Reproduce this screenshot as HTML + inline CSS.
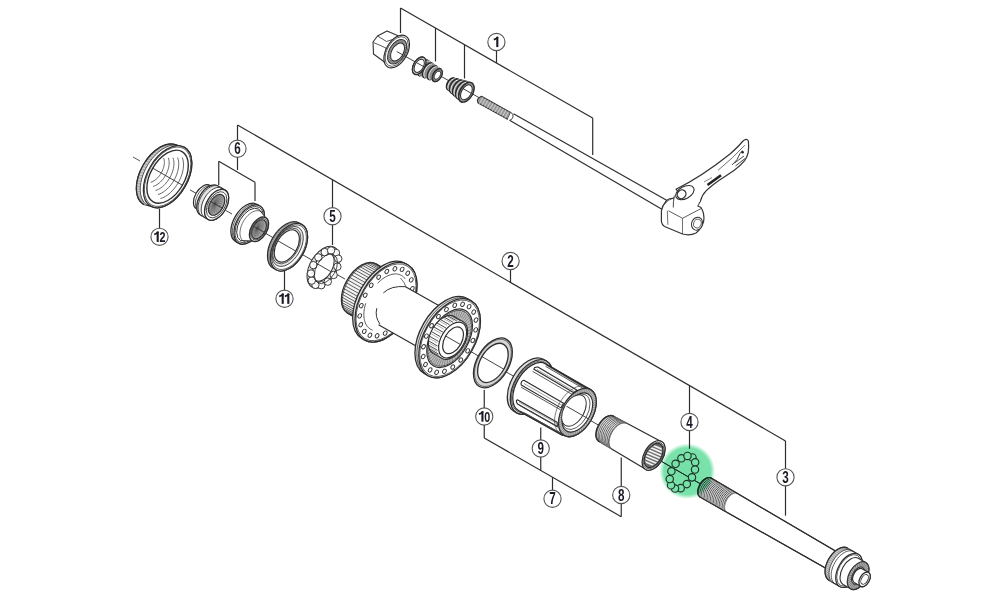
<!DOCTYPE html>
<html><head><meta charset="utf-8"><style>
html,body{margin:0;padding:0;background:#fff;width:1000px;height:600px;overflow:hidden}
svg{display:block}
</style></head><body>
<svg width="1000" height="600" viewBox="0 0 1000 600">
<rect width="1000" height="600" fill="#fff"/>
<line x1="400.5" y1="8" x2="400.5" y2="33" stroke="#2e2e2e" stroke-width="1.2" />
<line x1="400.5" y1="8" x2="593" y2="118.3" stroke="#2e2e2e" stroke-width="1.2" />
<line x1="435.5" y1="28.05" x2="435.5" y2="61.5" stroke="#2e2e2e" stroke-width="1.2" />
<line x1="464.5" y1="44.67" x2="464.5" y2="78.5" stroke="#2e2e2e" stroke-width="1.2" />
<line x1="496.5" y1="63.01" x2="496.5" y2="50.7" stroke="#2e2e2e" stroke-width="1.2" />
<line x1="592.7" y1="118.13" x2="592.7" y2="155" stroke="#2e2e2e" stroke-width="1.2" />
<line x1="237.5" y1="125" x2="785.5" y2="440.92" stroke="#2e2e2e" stroke-width="1.2" />
<line x1="237.5" y1="125" x2="237.5" y2="125" stroke="#2e2e2e" stroke-width="1.2" />
<line x1="237.5" y1="125" x2="237.5" y2="170" stroke="#2e2e2e" stroke-width="1.2" />
<line x1="218.75" y1="161.25" x2="218.75" y2="185" stroke="#2e2e2e" stroke-width="1.2" />
<line x1="218.75" y1="161.25" x2="255" y2="182.15" stroke="#2e2e2e" stroke-width="1.2" />
<line x1="255" y1="182.15" x2="255" y2="201" stroke="#2e2e2e" stroke-width="1.2" />
<line x1="332.5" y1="179.77" x2="332.5" y2="245" stroke="#2e2e2e" stroke-width="1.2" />
<line x1="510.5" y1="282.38" x2="510.5" y2="262" stroke="#2e2e2e" stroke-width="1.2" />
<line x1="689.5" y1="385.58" x2="689.5" y2="448.75" stroke="#2e2e2e" stroke-width="1.2" />
<line x1="785.5" y1="440.92" x2="785.5" y2="515.7" stroke="#2e2e2e" stroke-width="1.2" />
<line x1="484.25" y1="390" x2="484.25" y2="438" stroke="#2e2e2e" stroke-width="1.2" />
<line x1="484.25" y1="438" x2="621.25" y2="516.71" stroke="#2e2e2e" stroke-width="1.2" />
<line x1="621.25" y1="457.5" x2="621.25" y2="516.71" stroke="#2e2e2e" stroke-width="1.2" />
<line x1="540.75" y1="427.5" x2="540.75" y2="470.46" stroke="#2e2e2e" stroke-width="1.2" />
<line x1="552.5" y1="477.21" x2="552.5" y2="498.75" stroke="#2e2e2e" stroke-width="1.2" />
<line x1="159.5" y1="208.75" x2="159.5" y2="236" stroke="#2e2e2e" stroke-width="1.2" />
<line x1="284.5" y1="271" x2="284.5" y2="298" stroke="#2e2e2e" stroke-width="1.2" />
<line x1="133" y1="157" x2="140" y2="161.03" stroke="#2e2e2e" stroke-width="0.8" />
<line x1="226" y1="210.57" x2="232" y2="214.02" stroke="#2e2e2e" stroke-width="0.9" />
<line x1="262" y1="231.3" x2="345" y2="279.11" stroke="#2e2e2e" stroke-width="0.9" />
<line x1="455" y1="342.47" x2="515" y2="377.03" stroke="#2e2e2e" stroke-width="0.9" />
<line x1="580" y1="414.47" x2="600" y2="425.99" stroke="#2e2e2e" stroke-width="0.9" />
<line x1="650" y1="454.79" x2="705" y2="486.47" stroke="#2e2e2e" stroke-width="0.9" />
<line x1="190" y1="189.83" x2="198" y2="194.44" stroke="#2e2e2e" stroke-width="0.9" />
<path d="M177.52,145.62 A20 33.9 29.94 0 0 143.68,204.38 L150.68,206.08 A20 33.9 29.94 0 0 184.52,147.32 Z" fill="#fff" stroke="#2e2e2e" stroke-width="1.3" stroke-linejoin="round" />
<path d="M177.52,145.62 A20 33.9 29.94 0 0 143.68,204.38 L147.53,205.31 A20 33.9 29.94 0 1 181.37,146.56 Z" fill="#cfcfcf" stroke="none" stroke-width="0.0" stroke-linejoin="round"/>
<line x1="172.71" y1="144.07" x2="176.56" y2="145" stroke="#777" stroke-width="0.5" />
<line x1="170.74" y1="143.98" x2="174.59" y2="144.91" stroke="#777" stroke-width="0.5" />
<line x1="168.69" y1="144.15" x2="172.54" y2="145.08" stroke="#777" stroke-width="0.5" />
<line x1="166.57" y1="144.57" x2="170.42" y2="145.51" stroke="#777" stroke-width="0.5" />
<line x1="164.41" y1="145.25" x2="168.26" y2="146.19" stroke="#777" stroke-width="0.5" />
<line x1="162.21" y1="146.18" x2="166.06" y2="147.11" stroke="#777" stroke-width="0.5" />
<line x1="160" y1="147.35" x2="163.85" y2="148.28" stroke="#777" stroke-width="0.5" />
<line x1="157.79" y1="148.75" x2="161.64" y2="149.68" stroke="#777" stroke-width="0.5" />
<line x1="155.61" y1="150.37" x2="159.46" y2="151.3" stroke="#777" stroke-width="0.5" />
<line x1="153.46" y1="152.19" x2="157.31" y2="153.12" stroke="#777" stroke-width="0.5" />
<line x1="151.38" y1="154.2" x2="155.23" y2="155.14" stroke="#777" stroke-width="0.5" />
<line x1="149.38" y1="156.39" x2="153.23" y2="157.33" stroke="#777" stroke-width="0.5" />
<line x1="147.46" y1="158.73" x2="151.31" y2="159.67" stroke="#777" stroke-width="0.5" />
<line x1="145.66" y1="161.21" x2="149.51" y2="162.15" stroke="#777" stroke-width="0.5" />
<line x1="143.99" y1="163.81" x2="147.84" y2="164.74" stroke="#777" stroke-width="0.5" />
<line x1="142.45" y1="166.49" x2="146.3" y2="167.43" stroke="#777" stroke-width="0.5" />
<line x1="141.06" y1="169.25" x2="144.91" y2="170.19" stroke="#777" stroke-width="0.5" />
<line x1="139.83" y1="172.06" x2="143.68" y2="172.99" stroke="#777" stroke-width="0.5" />
<line x1="138.78" y1="174.89" x2="142.63" y2="175.82" stroke="#777" stroke-width="0.5" />
<line x1="137.91" y1="177.72" x2="141.76" y2="178.66" stroke="#777" stroke-width="0.5" />
<line x1="137.23" y1="180.53" x2="141.08" y2="181.46" stroke="#777" stroke-width="0.5" />
<line x1="136.75" y1="183.29" x2="140.6" y2="184.23" stroke="#777" stroke-width="0.5" />
<line x1="136.46" y1="185.99" x2="140.31" y2="186.92" stroke="#777" stroke-width="0.5" />
<line x1="136.38" y1="188.59" x2="140.23" y2="189.52" stroke="#777" stroke-width="0.5" />
<line x1="136.5" y1="191.08" x2="140.35" y2="192.01" stroke="#777" stroke-width="0.5" />
<line x1="136.82" y1="193.43" x2="140.67" y2="194.37" stroke="#777" stroke-width="0.5" />
<line x1="137.33" y1="195.63" x2="141.18" y2="196.57" stroke="#777" stroke-width="0.5" />
<line x1="138.04" y1="197.66" x2="141.89" y2="198.59" stroke="#777" stroke-width="0.5" />
<line x1="138.94" y1="199.5" x2="142.79" y2="200.43" stroke="#777" stroke-width="0.5" />
<line x1="140.02" y1="201.13" x2="143.87" y2="202.07" stroke="#777" stroke-width="0.5" />
<polyline points="182.22,147.1 179.84,145.82 177.18,145.09 174.29,144.92 171.22,145.32 168.02,146.27 164.76,147.77 161.5,149.78 158.29,152.26 155.19,155.18 152.26,158.47 149.55,162.09 147.12,165.95 145,170 143.23,174.15 141.85,178.34 140.88,182.48 140.34,186.51 140.25,190.34 140.59,193.91 141.36,197.15 142.56,200 144.15,202.42 146.12,204.36 148.42,205.77" fill="none" stroke="#333" stroke-width="0.8" stroke-linejoin="round" stroke-linecap="round" />
<polyline points="177.52,145.62 175.11,144.57 172.46,144.04 169.6,144.04 166.59,144.57 163.47,145.62 160.31,147.17 157.15,149.2 154.05,151.67 151.06,154.54 148.24,157.75 145.63,161.27 143.27,165.02 141.21,168.94 139.48,172.96 138.11,177.02 137.13,181.04 136.55,184.96 136.38,188.71 136.63,192.23 137.28,195.45 138.34,198.32 139.77,200.79 141.56,202.82 143.68,204.38" fill="none" stroke="#2e2e2e" stroke-width="1.3" stroke-linejoin="round" stroke-linecap="round" />
<ellipse cx="167.6" cy="176.7" rx="20" ry="33.9" transform="rotate(29.94 167.6 176.7)" fill="#fff" stroke="#2e2e2e" stroke-width="1.3" />
<ellipse cx="167.6" cy="176.7" rx="19.18" ry="32.5" transform="rotate(29.94 167.6 176.7)" fill="none" stroke="#2e2e2e" stroke-width="0.7" />
<ellipse cx="167.6" cy="176.7" rx="17.11" ry="29" transform="rotate(29.94 167.6 176.7)" fill="#fff" stroke="#2e2e2e" stroke-width="1.4" />
<clipPath id="c1"><ellipse cx="167.6" cy="176.7" rx="17.11" ry="29" transform="rotate(29.94 167.6 176.7)"/></clipPath>
<g clip-path="url(#c1)">
<polyline points="182.41,157.9 182.91,159.46 183.26,161.15 183.47,162.94 183.53,164.83 183.45,166.79 183.21,168.83 182.84,170.91 182.32,173.02 181.66,175.15 180.87,177.28 179.96,179.39 178.92,181.47 177.78,183.5 176.53,185.46 175.19,187.34 173.76,189.12 172.27,190.79 170.72,192.34 169.12,193.76 167.48,195.02 165.83,196.13 164.16,197.08 162.5,197.85 160.86,198.44" fill="none" stroke="#555" stroke-width="0.9" stroke-linejoin="round" stroke-linecap="round" />
<polyline points="177.74,158.01 178.18,159.42 178.5,160.93 178.69,162.53 178.74,164.23 178.67,165.99 178.46,167.82 178.12,169.69 177.65,171.58 177.07,173.49 176.36,175.4 175.54,177.3 174.61,179.16 173.58,180.98 172.46,182.74 171.25,184.43 169.98,186.03 168.64,187.53 167.24,188.92 165.81,190.19 164.34,191.33 162.86,192.32 161.36,193.17 159.87,193.86 158.4,194.4" fill="none" stroke="#555" stroke-width="0.9" stroke-linejoin="round" stroke-linecap="round" />
<polyline points="173.06,158.13 173.46,159.37 173.74,160.71 173.9,162.13 173.95,163.63 173.89,165.2 173.7,166.81 173.4,168.46 172.99,170.14 172.47,171.84 171.84,173.53 171.11,175.21 170.29,176.86 169.38,178.47 168.39,180.03 167.32,181.52 166.19,182.94 165,184.27 163.77,185.5 162.5,186.62 161.2,187.63 159.88,188.51 158.56,189.26 157.24,189.88 155.94,190.35" fill="none" stroke="#555" stroke-width="0.9" stroke-linejoin="round" stroke-linecap="round" />
<polyline points="168.39,158.24 168.73,159.32 168.98,160.49 169.12,161.73 169.17,163.03 169.11,164.4 168.95,165.8 168.69,167.24 168.33,168.71 167.87,170.18 167.33,171.65 166.69,173.11 165.98,174.55 165.18,175.95 164.32,177.31 163.39,178.61 162.41,179.85 161.37,181 160.3,182.08 159.19,183.05 158.06,183.93 156.91,184.7 155.76,185.35 154.61,185.89 153.48,186.3" fill="none" stroke="#555" stroke-width="0.9" stroke-linejoin="round" stroke-linecap="round" />
<polyline points="163.72,158.36 164.01,159.28 164.22,160.27 164.34,161.32 164.38,162.44 164.33,163.6 164.19,164.79 163.97,166.02 163.66,167.27 163.27,168.52 162.81,169.78 162.27,171.02 161.66,172.25 160.98,173.44 160.25,174.6 159.46,175.7 158.62,176.76 157.74,177.74 156.82,178.65 155.88,179.49 154.92,180.23 153.94,180.89 152.96,181.45 151.98,181.9 151.02,182.25" fill="none" stroke="#555" stroke-width="0.9" stroke-linejoin="round" stroke-linecap="round" />
<line x1="122.6" y1="150.78" x2="227.6" y2="211.26" stroke="#2e2e2e" stroke-width="0.9" />
</g>
<path d="M209.96,185.28 A8.02 13.6 29.94 0 0 196.38,208.85 L202.01,212.09 A8.02 13.6 29.94 0 0 215.59,188.52 Z" fill="#fff" stroke="#2e2e2e" stroke-width="1.2" stroke-linejoin="round" />
<polyline points="212.2,186.59 211.25,186.08 210.18,185.79 209.02,185.72 207.79,185.88 206.51,186.26 205.2,186.86 203.89,187.67 202.6,188.67 201.36,189.84 200.19,191.16 199.1,192.61 198.12,194.16 197.27,195.78 196.56,197.45 196.01,199.13 195.62,200.79 195.4,202.4 195.36,203.94 195.5,205.37 195.81,206.67 196.29,207.82 196.93,208.79 197.72,209.56 198.64,210.13" fill="none" stroke="#2e2e2e" stroke-width="0.8" stroke-linejoin="round" stroke-linecap="round" />
<path d="M217.24,185.66 A9.97 16.9 29.94 0 0 200.37,214.95 L208.16,219.44 A9.97 16.9 29.94 0 0 225.04,190.16 Z" fill="#fff" stroke="#2e2e2e" stroke-width="1.3" stroke-linejoin="round" />
<path d="M218.54,186.41 A9.97 16.9 29.94 0 0 201.67,215.7 L204.87,217.55 A9.97 16.9 29.94 0 1 221.74,188.26 Z" fill="#e4e4e4" stroke="none" stroke-width="0.0" stroke-linejoin="round"/>
<polyline points="218.96,186.68 217.77,186.04 216.45,185.68 215,185.6 213.47,185.79 211.88,186.27 210.26,187.02 208.63,188.02 207.03,189.26 205.49,190.71 204.03,192.35 202.68,194.15 201.46,196.08 200.4,198.1 199.52,200.17 198.84,202.26 198.35,204.32 198.08,206.33 198.03,208.24 198.2,210.02 198.59,211.63 199.19,213.06 199.98,214.26 200.96,215.23 202.11,215.93" fill="none" stroke="#2e2e2e" stroke-width="0.9" stroke-linejoin="round" stroke-linecap="round" />
<polyline points="222.16,188.53 220.98,187.89 219.65,187.53 218.21,187.44 216.68,187.64 215.09,188.12 213.46,188.86 211.84,189.86 210.24,191.1 208.69,192.56 207.23,194.2 205.88,196 204.67,197.93 203.61,199.94 202.73,202.02 202.04,204.1 201.56,206.17 201.29,208.17 201.24,210.08 201.41,211.86 201.8,213.48 202.39,214.9 203.19,216.11 204.17,217.07 205.31,217.78" fill="none" stroke="#2e2e2e" stroke-width="0.9" stroke-linejoin="round" stroke-linecap="round" />
<ellipse cx="216.6" cy="204.8" rx="9.97" ry="16.9" transform="rotate(29.94 216.6 204.8)" fill="#fff" stroke="#2e2e2e" stroke-width="1.3" />
<ellipse cx="216.6" cy="204.8" rx="8.44" ry="14.3" transform="rotate(29.94 216.6 204.8)" fill="#fff" stroke="#2e2e2e" stroke-width="0.8" />
<ellipse cx="216.6" cy="204.8" rx="6.73" ry="11.4" transform="rotate(29.94 216.6 204.8)" fill="#a2a2a2" stroke="#2e2e2e" stroke-width="1.2" />
<line x1="214.87" y1="203.8" x2="220.36" y2="194.27" stroke="#555" stroke-width="0.5" />
<line x1="214.87" y1="203.8" x2="221.54" y2="195.32" stroke="#555" stroke-width="0.5" />
<line x1="214.87" y1="203.8" x2="222.34" y2="196.87" stroke="#555" stroke-width="0.5" />
<line x1="214.87" y1="203.8" x2="222.71" y2="198.82" stroke="#555" stroke-width="0.5" />
<line x1="214.87" y1="203.8" x2="222.61" y2="201.05" stroke="#555" stroke-width="0.5" />
<line x1="214.87" y1="203.8" x2="222.07" y2="203.45" stroke="#555" stroke-width="0.5" />
<line x1="214.87" y1="203.8" x2="221.11" y2="205.87" stroke="#555" stroke-width="0.5" />
<line x1="214.87" y1="203.8" x2="219.79" y2="208.17" stroke="#555" stroke-width="0.5" />
<line x1="214.87" y1="203.8" x2="218.18" y2="210.21" stroke="#555" stroke-width="0.5" />
<line x1="214.87" y1="203.8" x2="216.38" y2="211.88" stroke="#555" stroke-width="0.5" />
<line x1="214.87" y1="203.8" x2="214.49" y2="213.08" stroke="#555" stroke-width="0.5" />
<line x1="214.87" y1="203.8" x2="212.62" y2="213.75" stroke="#555" stroke-width="0.5" />
<line x1="214.87" y1="203.8" x2="210.88" y2="213.83" stroke="#555" stroke-width="0.5" />
<line x1="214.87" y1="203.8" x2="209.38" y2="213.33" stroke="#555" stroke-width="0.5" />
<line x1="214.87" y1="203.8" x2="208.19" y2="212.28" stroke="#555" stroke-width="0.5" />
<line x1="214.87" y1="203.8" x2="207.39" y2="210.74" stroke="#555" stroke-width="0.5" />
<line x1="214.87" y1="203.8" x2="207.03" y2="208.79" stroke="#555" stroke-width="0.5" />
<line x1="214.87" y1="203.8" x2="207.12" y2="206.55" stroke="#555" stroke-width="0.5" />
<line x1="214.87" y1="203.8" x2="207.66" y2="204.15" stroke="#555" stroke-width="0.5" />
<line x1="214.87" y1="203.8" x2="208.62" y2="201.74" stroke="#555" stroke-width="0.5" />
<line x1="214.87" y1="203.8" x2="209.95" y2="199.44" stroke="#555" stroke-width="0.5" />
<line x1="214.87" y1="203.8" x2="211.56" y2="197.39" stroke="#555" stroke-width="0.5" />
<line x1="214.87" y1="203.8" x2="213.36" y2="195.72" stroke="#555" stroke-width="0.5" />
<line x1="214.87" y1="203.8" x2="215.25" y2="194.52" stroke="#555" stroke-width="0.5" />
<line x1="214.87" y1="203.8" x2="217.11" y2="193.86" stroke="#555" stroke-width="0.5" />
<line x1="214.87" y1="203.8" x2="218.85" y2="193.77" stroke="#555" stroke-width="0.5" />
<clipPath id="c2"><ellipse cx="216.6" cy="204.8" rx="6.73" ry="11.4" transform="rotate(29.94 216.6 204.8)"/></clipPath>
<g clip-path="url(#c2)">
<line x1="156.6" y1="170.24" x2="276.6" y2="239.36" stroke="#2e2e2e" stroke-width="0.9" />
</g>
<path d="M256.85,204.31 A12.63 21.4 29.94 0 0 235.49,241.4 L238.52,243.14 A12.63 21.4 29.94 0 0 259.88,206.06 Z" fill="#fff" stroke="#2e2e2e" stroke-width="1.3" stroke-linejoin="round" />
<polyline points="258.85,205.5 257.35,204.69 255.67,204.23 253.85,204.12 251.91,204.37 249.9,204.98 247.84,205.92 245.78,207.19 243.75,208.76 241.8,210.6 239.95,212.68 238.24,214.96 236.7,217.4 235.36,219.95 234.25,222.58 233.37,225.22 232.76,227.84 232.42,230.38 232.36,232.79 232.58,235.05 233.07,237.09 233.82,238.9 234.83,240.42 236.07,241.64 237.52,242.54" fill="none" stroke="#2e2e2e" stroke-width="0.8" stroke-linejoin="round" stroke-linecap="round" />
<ellipse cx="249.2" cy="224.6" rx="12.63" ry="21.4" transform="rotate(29.94 249.2 224.6)" fill="#fff" stroke="#2e2e2e" stroke-width="1.3" />
<ellipse cx="249.2" cy="224.6" rx="11.74" ry="19.9" transform="rotate(29.94 249.2 224.6)" fill="#fff" stroke="#2e2e2e" stroke-width="0.8" />
<path d="M258.72,209.08 A10.74 18.2 29.94 0 0 240.55,240.62 L252.31,240.91 A7.91 13.4 29.94 0 0 265.69,217.69 Z" fill="#fff" stroke="#2e2e2e" stroke-width="1.0" stroke-linejoin="round" />
<polyline points="262.04,212.37 260.88,211.48 259.54,210.89 258.05,210.62 256.44,210.68 254.75,211.05 253.01,211.74 251.25,212.73 249.51,214 247.82,215.53 246.23,217.27 244.76,219.2 243.44,221.28 242.3,223.46 241.37,225.7 240.66,227.96 240.19,230.18 239.96,232.32 239.99,234.34 240.27,236.2 240.79,237.85 241.55,239.27 242.53,240.42 243.71,241.28 245.06,241.84" fill="none" stroke="#2e2e2e" stroke-width="0.7" stroke-linejoin="round" stroke-linecap="round" />
<ellipse cx="259" cy="229.3" rx="7.91" ry="13.4" transform="rotate(29.94 259 229.3)" fill="#fff" stroke="#2e2e2e" stroke-width="1.4" />
<ellipse cx="259" cy="229.3" rx="6.96" ry="11.8" transform="rotate(29.94 259 229.3)" fill="#fff" stroke="#2e2e2e" stroke-width="0.8" />
<ellipse cx="259" cy="229.3" rx="6.14" ry="10.4" transform="rotate(29.94 259 229.3)" fill="#a2a2a2" stroke="#2e2e2e" stroke-width="1.1" />
<line x1="257.27" y1="228.3" x2="262.26" y2="219.64" stroke="#555" stroke-width="0.5" />
<line x1="257.27" y1="228.3" x2="263.34" y2="220.59" stroke="#555" stroke-width="0.5" />
<line x1="257.27" y1="228.3" x2="264.06" y2="222" stroke="#555" stroke-width="0.5" />
<line x1="257.27" y1="228.3" x2="264.39" y2="223.77" stroke="#555" stroke-width="0.5" />
<line x1="257.27" y1="228.3" x2="264.31" y2="225.8" stroke="#555" stroke-width="0.5" />
<line x1="257.27" y1="228.3" x2="263.82" y2="227.98" stroke="#555" stroke-width="0.5" />
<line x1="257.27" y1="228.3" x2="262.94" y2="230.18" stroke="#555" stroke-width="0.5" />
<line x1="257.27" y1="228.3" x2="261.74" y2="232.27" stroke="#555" stroke-width="0.5" />
<line x1="257.27" y1="228.3" x2="260.28" y2="234.13" stroke="#555" stroke-width="0.5" />
<line x1="257.27" y1="228.3" x2="258.64" y2="235.65" stroke="#555" stroke-width="0.5" />
<line x1="257.27" y1="228.3" x2="256.92" y2="236.74" stroke="#555" stroke-width="0.5" />
<line x1="257.27" y1="228.3" x2="255.22" y2="237.34" stroke="#555" stroke-width="0.5" />
<line x1="257.27" y1="228.3" x2="253.64" y2="237.42" stroke="#555" stroke-width="0.5" />
<line x1="257.27" y1="228.3" x2="252.28" y2="236.97" stroke="#555" stroke-width="0.5" />
<line x1="257.27" y1="228.3" x2="251.2" y2="236.01" stroke="#555" stroke-width="0.5" />
<line x1="257.27" y1="228.3" x2="250.47" y2="234.61" stroke="#555" stroke-width="0.5" />
<line x1="257.27" y1="228.3" x2="250.14" y2="232.84" stroke="#555" stroke-width="0.5" />
<line x1="257.27" y1="228.3" x2="250.22" y2="230.8" stroke="#555" stroke-width="0.5" />
<line x1="257.27" y1="228.3" x2="250.72" y2="228.62" stroke="#555" stroke-width="0.5" />
<line x1="257.27" y1="228.3" x2="251.59" y2="226.42" stroke="#555" stroke-width="0.5" />
<line x1="257.27" y1="228.3" x2="252.79" y2="224.33" stroke="#555" stroke-width="0.5" />
<line x1="257.27" y1="228.3" x2="254.26" y2="222.48" stroke="#555" stroke-width="0.5" />
<line x1="257.27" y1="228.3" x2="255.89" y2="220.96" stroke="#555" stroke-width="0.5" />
<line x1="257.27" y1="228.3" x2="257.61" y2="219.86" stroke="#555" stroke-width="0.5" />
<line x1="257.27" y1="228.3" x2="259.31" y2="219.26" stroke="#555" stroke-width="0.5" />
<line x1="257.27" y1="228.3" x2="260.89" y2="219.18" stroke="#555" stroke-width="0.5" />
<clipPath id="c3"><ellipse cx="259" cy="229.3" rx="6.14" ry="10.4" transform="rotate(29.94 259 229.3)"/></clipPath>
<g clip-path="url(#c3)">
<line x1="199" y1="194.74" x2="319" y2="263.86" stroke="#2e2e2e" stroke-width="0.9" />
</g>
<path d="M298.94,222.92 A15.34 26 29.94 0 0 272.99,267.98 L276.02,269.73 A15.34 26 29.94 0 0 301.98,224.67 Z" fill="#b0b0b0" stroke="#2e2e2e" stroke-width="1.3" stroke-linejoin="round" />
<line x1="296.81" y1="222.03" x2="299.85" y2="223.78" stroke="#555" stroke-width="0.5" />
<line x1="295.47" y1="221.76" x2="298.5" y2="223.5" stroke="#555" stroke-width="0.5" />
<line x1="294.06" y1="221.66" x2="297.09" y2="223.41" stroke="#555" stroke-width="0.5" />
<line x1="292.59" y1="221.74" x2="295.62" y2="223.48" stroke="#555" stroke-width="0.5" />
<line x1="291.06" y1="221.99" x2="294.1" y2="223.74" stroke="#555" stroke-width="0.5" />
<line x1="289.5" y1="222.42" x2="292.54" y2="224.17" stroke="#555" stroke-width="0.5" />
<line x1="287.92" y1="223.02" x2="290.95" y2="224.77" stroke="#555" stroke-width="0.5" />
<line x1="286.32" y1="223.79" x2="289.35" y2="225.54" stroke="#555" stroke-width="0.5" />
<line x1="284.71" y1="224.72" x2="287.75" y2="226.47" stroke="#555" stroke-width="0.5" />
<line x1="283.12" y1="225.81" x2="286.15" y2="227.56" stroke="#555" stroke-width="0.5" />
<line x1="281.55" y1="227.04" x2="284.58" y2="228.79" stroke="#555" stroke-width="0.5" />
<line x1="280.01" y1="228.41" x2="283.04" y2="230.16" stroke="#555" stroke-width="0.5" />
<line x1="278.51" y1="229.91" x2="281.54" y2="231.65" stroke="#555" stroke-width="0.5" />
<line x1="277.07" y1="231.52" x2="280.1" y2="233.26" stroke="#555" stroke-width="0.5" />
<line x1="275.7" y1="233.23" x2="278.73" y2="234.98" stroke="#555" stroke-width="0.5" />
<line x1="274.4" y1="235.04" x2="277.43" y2="236.79" stroke="#555" stroke-width="0.5" />
<line x1="273.19" y1="236.92" x2="276.22" y2="238.67" stroke="#555" stroke-width="0.5" />
<line x1="272.07" y1="238.87" x2="275.11" y2="240.62" stroke="#555" stroke-width="0.5" />
<line x1="271.06" y1="240.87" x2="274.1" y2="242.62" stroke="#555" stroke-width="0.5" />
<line x1="270.16" y1="242.9" x2="273.19" y2="244.65" stroke="#555" stroke-width="0.5" />
<line x1="269.38" y1="244.95" x2="272.41" y2="246.7" stroke="#555" stroke-width="0.5" />
<line x1="268.72" y1="247" x2="271.75" y2="248.75" stroke="#555" stroke-width="0.5" />
<line x1="268.19" y1="249.05" x2="271.22" y2="250.79" stroke="#555" stroke-width="0.5" />
<line x1="267.79" y1="251.06" x2="270.82" y2="252.81" stroke="#555" stroke-width="0.5" />
<line x1="267.53" y1="253.04" x2="270.56" y2="254.78" stroke="#555" stroke-width="0.5" />
<line x1="267.4" y1="254.95" x2="270.43" y2="256.7" stroke="#555" stroke-width="0.5" />
<line x1="267.41" y1="256.8" x2="270.45" y2="258.55" stroke="#555" stroke-width="0.5" />
<line x1="267.57" y1="258.56" x2="270.6" y2="260.31" stroke="#555" stroke-width="0.5" />
<line x1="267.85" y1="260.23" x2="270.89" y2="261.97" stroke="#555" stroke-width="0.5" />
<line x1="268.28" y1="261.78" x2="271.31" y2="263.53" stroke="#555" stroke-width="0.5" />
<line x1="268.83" y1="263.21" x2="271.87" y2="264.96" stroke="#555" stroke-width="0.5" />
<line x1="269.52" y1="264.51" x2="272.55" y2="266.26" stroke="#555" stroke-width="0.5" />
<line x1="270.32" y1="265.67" x2="273.35" y2="267.42" stroke="#555" stroke-width="0.5" />
<line x1="271.24" y1="266.68" x2="274.28" y2="268.42" stroke="#555" stroke-width="0.5" />
<ellipse cx="289" cy="247.2" rx="15.34" ry="26" transform="rotate(29.94 289 247.2)" fill="#fff" stroke="#2e2e2e" stroke-width="1.3" />
<ellipse cx="289" cy="247.2" rx="14.4" ry="24.4" transform="rotate(29.94 289 247.2)" fill="none" stroke="#2e2e2e" stroke-width="0.7" />
<ellipse cx="287.7" cy="246.45" rx="12.86" ry="21.8" transform="rotate(29.94 287.7 246.45)" fill="#e9e9e9" stroke="#2e2e2e" stroke-width="0.8" />
<ellipse cx="286.83" cy="245.95" rx="11.56" ry="19.6" transform="rotate(29.94 286.83 245.95)" fill="none" stroke="#2e2e2e" stroke-width="0.7" />
<ellipse cx="286.83" cy="245.95" rx="10.38" ry="17.6" transform="rotate(29.94 286.83 245.95)" fill="#fff" stroke="#2e2e2e" stroke-width="1.1" />
<clipPath id="c4"><ellipse cx="286.83" cy="245.95" rx="10.38" ry="17.6" transform="rotate(29.94 286.83 245.95)"/></clipPath>
<g clip-path="url(#c4)">
<line x1="226.83" y1="211.39" x2="346.83" y2="280.51" stroke="#2e2e2e" stroke-width="0.9" />
</g>
<ellipse cx="323.3" cy="267.25" rx="13.45" ry="22.8" transform="rotate(29.94 323.3 267.25)" fill="#e6e6e6" stroke="#2e2e2e" stroke-width="1.0" />
<ellipse cx="323.3" cy="267.25" rx="8.97" ry="15.2" transform="rotate(29.94 323.3 267.25)" fill="#fff" stroke="#2e2e2e" stroke-width="1.0" />
<clipPath id="c5"><ellipse cx="323.3" cy="267.25" rx="8.97" ry="15.2" transform="rotate(29.94 323.3 267.25)"/></clipPath>
<g clip-path="url(#c5)">
<line x1="263.3" y1="232.69" x2="383.3" y2="301.81" stroke="#2e2e2e" stroke-width="0.9" />
</g>
<circle cx="335.94" cy="252.82" r="3.7" fill="#fff" stroke="#333" stroke-width="0.95"/>
<circle cx="337.06" cy="252.52" r="1.2" fill="#f0f0f0" stroke="none"/>
<circle cx="338.23" cy="258.67" r="3.7" fill="#fff" stroke="#333" stroke-width="0.95"/>
<circle cx="339.35" cy="258.37" r="1.2" fill="#f0f0f0" stroke="none"/>
<circle cx="337.39" cy="266.66" r="3.7" fill="#fff" stroke="#333" stroke-width="0.95"/>
<circle cx="338.51" cy="266.36" r="1.2" fill="#f0f0f0" stroke="none"/>
<circle cx="333.63" cy="274.95" r="3.7" fill="#fff" stroke="#333" stroke-width="0.95"/>
<circle cx="334.75" cy="274.65" r="1.2" fill="#f0f0f0" stroke="none"/>
<circle cx="327.79" cy="281.66" r="3.7" fill="#fff" stroke="#333" stroke-width="0.95"/>
<circle cx="328.91" cy="281.36" r="1.2" fill="#f0f0f0" stroke="none"/>
<circle cx="321.23" cy="285.23" r="3.7" fill="#fff" stroke="#333" stroke-width="0.95"/>
<circle cx="322.35" cy="284.93" r="1.2" fill="#f0f0f0" stroke="none"/>
<circle cx="315.43" cy="284.86" r="3.7" fill="#fff" stroke="#333" stroke-width="0.95"/>
<circle cx="316.55" cy="284.56" r="1.2" fill="#f0f0f0" stroke="none"/>
<circle cx="311.74" cy="280.62" r="3.7" fill="#fff" stroke="#333" stroke-width="0.95"/>
<circle cx="312.86" cy="280.32" r="1.2" fill="#f0f0f0" stroke="none"/>
<circle cx="310.99" cy="273.5" r="3.7" fill="#fff" stroke="#333" stroke-width="0.95"/>
<circle cx="312.11" cy="273.2" r="1.2" fill="#f0f0f0" stroke="none"/>
<circle cx="313.36" cy="265.11" r="3.7" fill="#fff" stroke="#333" stroke-width="0.95"/>
<circle cx="314.48" cy="264.81" r="1.2" fill="#f0f0f0" stroke="none"/>
<circle cx="318.31" cy="257.39" r="3.7" fill="#fff" stroke="#333" stroke-width="0.95"/>
<circle cx="319.43" cy="257.09" r="1.2" fill="#f0f0f0" stroke="none"/>
<circle cx="324.69" cy="252.09" r="3.7" fill="#fff" stroke="#333" stroke-width="0.95"/>
<circle cx="325.81" cy="251.79" r="1.2" fill="#f0f0f0" stroke="none"/>
<circle cx="331.06" cy="250.45" r="3.7" fill="#fff" stroke="#333" stroke-width="0.95"/>
<circle cx="332.18" cy="250.14" r="1.2" fill="#f0f0f0" stroke="none"/>
<ellipse cx="325.9" cy="268.75" rx="9.56" ry="16.2" transform="rotate(29.94 325.9 268.75)" fill="none" stroke="#2e2e2e" stroke-width="0.8" />
<path d="M375.92,263.8 A16.81 28.5 29.94 0 0 347.48,313.2 L367.44,324.5 A16.81 28.5 29.94 0 0 395.89,275.11 Z" fill="#f2f2f2" stroke="#2e2e2e" stroke-width="1.2" stroke-linejoin="round" />
<line x1="380.06" y1="268.18" x2="400.03" y2="279.48" stroke="#3a3a3a" stroke-width="0.8" />
<line x1="378.96" y1="266.48" x2="398.93" y2="277.78" stroke="#3a3a3a" stroke-width="0.8" />
<line x1="377.64" y1="265.05" x2="397.61" y2="276.36" stroke="#3a3a3a" stroke-width="0.8" />
<line x1="376.12" y1="263.92" x2="396.09" y2="275.22" stroke="#3a3a3a" stroke-width="0.8" />
<line x1="374.42" y1="263.1" x2="394.39" y2="274.4" stroke="#3a3a3a" stroke-width="0.8" />
<line x1="372.56" y1="262.6" x2="392.53" y2="273.9" stroke="#3a3a3a" stroke-width="0.8" />
<line x1="370.57" y1="262.42" x2="390.54" y2="273.72" stroke="#3a3a3a" stroke-width="0.8" />
<line x1="368.46" y1="262.57" x2="388.43" y2="273.87" stroke="#3a3a3a" stroke-width="0.8" />
<line x1="366.27" y1="263.04" x2="386.24" y2="274.35" stroke="#3a3a3a" stroke-width="0.8" />
<line x1="364.02" y1="263.84" x2="383.99" y2="275.14" stroke="#3a3a3a" stroke-width="0.8" />
<line x1="361.74" y1="264.94" x2="381.71" y2="276.25" stroke="#3a3a3a" stroke-width="0.8" />
<line x1="359.47" y1="266.34" x2="379.43" y2="277.65" stroke="#3a3a3a" stroke-width="0.8" />
<line x1="357.22" y1="268.02" x2="377.18" y2="279.33" stroke="#3a3a3a" stroke-width="0.8" />
<line x1="355.02" y1="269.96" x2="374.99" y2="281.26" stroke="#3a3a3a" stroke-width="0.8" />
<line x1="352.91" y1="272.13" x2="372.88" y2="283.43" stroke="#3a3a3a" stroke-width="0.8" />
<line x1="350.91" y1="274.5" x2="370.88" y2="285.8" stroke="#3a3a3a" stroke-width="0.8" />
<line x1="349.05" y1="277.05" x2="369.01" y2="288.35" stroke="#3a3a3a" stroke-width="0.8" />
<line x1="347.34" y1="279.74" x2="367.31" y2="291.05" stroke="#3a3a3a" stroke-width="0.8" />
<line x1="345.82" y1="282.55" x2="365.78" y2="293.85" stroke="#3a3a3a" stroke-width="0.8" />
<line x1="344.49" y1="285.43" x2="364.46" y2="296.73" stroke="#3a3a3a" stroke-width="0.8" />
<line x1="343.38" y1="288.34" x2="363.35" y2="299.65" stroke="#3a3a3a" stroke-width="0.8" />
<line x1="342.5" y1="291.26" x2="362.47" y2="302.57" stroke="#3a3a3a" stroke-width="0.8" />
<line x1="341.86" y1="294.15" x2="361.83" y2="305.45" stroke="#3a3a3a" stroke-width="0.8" />
<line x1="341.47" y1="296.96" x2="361.44" y2="308.27" stroke="#3a3a3a" stroke-width="0.8" />
<line x1="341.34" y1="299.67" x2="361.3" y2="310.97" stroke="#3a3a3a" stroke-width="0.8" />
<line x1="341.46" y1="302.24" x2="361.42" y2="313.54" stroke="#3a3a3a" stroke-width="0.8" />
<line x1="341.83" y1="304.63" x2="361.8" y2="315.94" stroke="#3a3a3a" stroke-width="0.8" />
<line x1="342.46" y1="306.82" x2="362.42" y2="318.13" stroke="#3a3a3a" stroke-width="0.8" />
<line x1="343.32" y1="308.79" x2="363.29" y2="320.09" stroke="#3a3a3a" stroke-width="0.8" />
<line x1="344.42" y1="310.49" x2="364.39" y2="321.8" stroke="#3a3a3a" stroke-width="0.8" />
<line x1="345.73" y1="311.92" x2="365.7" y2="323.23" stroke="#3a3a3a" stroke-width="0.8" />
<line x1="347.25" y1="313.06" x2="367.21" y2="324.36" stroke="#3a3a3a" stroke-width="0.8" />
<line x1="348.94" y1="313.89" x2="368.91" y2="325.19" stroke="#3a3a3a" stroke-width="0.8" />
<line x1="350.8" y1="314.4" x2="370.76" y2="325.7" stroke="#3a3a3a" stroke-width="0.8" />
<polyline points="381.1,268.78 379.53,266.51 377.56,264.77 375.24,263.62 372.62,263.06 369.77,263.13 366.75,263.81 363.64,265.09 360.51,266.94 357.42,269.32 354.47,272.16 351.71,275.41 349.21,278.98 347.04,282.79 345.23,286.75 343.84,290.77 342.9,294.75 342.43,298.59 342.44,302.21 342.94,305.52 343.9,308.43 345.31,310.89 347.13,312.83 349.33,314.21 351.84,315" fill="none" stroke="#333" stroke-width="0.8" stroke-linejoin="round" stroke-linecap="round" />
<ellipse cx="381.67" cy="299.8" rx="16.52" ry="28" transform="rotate(29.94 381.67 299.8)" fill="#e0e0e0" stroke="#2e2e2e" stroke-width="0.8" />
<path d="M405.06,263.2 A25.61 43.4 29.94 0 0 361.74,338.41 L364.34,339.91 A25.61 43.4 29.94 0 0 407.66,264.69 Z" fill="#e2e2e2" stroke="#2e2e2e" stroke-width="1.3" stroke-linejoin="round" />
<ellipse cx="386" cy="302.3" rx="25.61" ry="43.4" transform="rotate(29.94 386 302.3)" fill="#fff" stroke="#2e2e2e" stroke-width="1.3" />
<ellipse cx="386" cy="302.3" rx="24.78" ry="42" transform="rotate(29.94 386 302.3)" fill="none" stroke="#2e2e2e" stroke-width="0.7" />
<ellipse cx="407.74" cy="273.2" rx="1.7" ry="2.3" transform="rotate(29.94 407.74 273.2)" fill="#fff" stroke="#333" stroke-width="0.9"/>
<ellipse cx="411.25" cy="279.86" rx="1.7" ry="2.3" transform="rotate(29.94 411.25 279.86)" fill="#fff" stroke="#333" stroke-width="0.9"/>
<ellipse cx="412.28" cy="288.72" rx="1.7" ry="2.3" transform="rotate(29.94 412.28 288.72)" fill="#fff" stroke="#333" stroke-width="0.9"/>
<ellipse cx="410.74" cy="298.91" rx="1.7" ry="2.3" transform="rotate(29.94 410.74 298.91)" fill="#fff" stroke="#333" stroke-width="0.9"/>
<ellipse cx="406.78" cy="309.43" rx="1.7" ry="2.3" transform="rotate(29.94 406.78 309.43)" fill="#fff" stroke="#333" stroke-width="0.9"/>
<ellipse cx="400.79" cy="319.26" rx="1.7" ry="2.3" transform="rotate(29.94 400.79 319.26)" fill="#fff" stroke="#333" stroke-width="0.9"/>
<ellipse cx="393.35" cy="327.42" rx="1.7" ry="2.3" transform="rotate(29.94 393.35 327.42)" fill="#fff" stroke="#333" stroke-width="0.9"/>
<ellipse cx="385.19" cy="333.12" rx="1.7" ry="2.3" transform="rotate(29.94 385.19 333.12)" fill="#fff" stroke="#333" stroke-width="0.9"/>
<ellipse cx="377.11" cy="335.81" rx="1.7" ry="2.3" transform="rotate(29.94 377.11 335.81)" fill="#fff" stroke="#333" stroke-width="0.9"/>
<ellipse cx="369.9" cy="335.22" rx="1.7" ry="2.3" transform="rotate(29.94 369.9 335.22)" fill="#fff" stroke="#333" stroke-width="0.9"/>
<ellipse cx="364.26" cy="331.4" rx="1.7" ry="2.3" transform="rotate(29.94 364.26 331.4)" fill="#fff" stroke="#333" stroke-width="0.9"/>
<ellipse cx="360.75" cy="324.74" rx="1.7" ry="2.3" transform="rotate(29.94 360.75 324.74)" fill="#fff" stroke="#333" stroke-width="0.9"/>
<ellipse cx="359.72" cy="315.88" rx="1.7" ry="2.3" transform="rotate(29.94 359.72 315.88)" fill="#fff" stroke="#333" stroke-width="0.9"/>
<ellipse cx="361.26" cy="305.69" rx="1.7" ry="2.3" transform="rotate(29.94 361.26 305.69)" fill="#fff" stroke="#333" stroke-width="0.9"/>
<ellipse cx="365.22" cy="295.17" rx="1.7" ry="2.3" transform="rotate(29.94 365.22 295.17)" fill="#fff" stroke="#333" stroke-width="0.9"/>
<ellipse cx="371.21" cy="285.34" rx="1.7" ry="2.3" transform="rotate(29.94 371.21 285.34)" fill="#fff" stroke="#333" stroke-width="0.9"/>
<ellipse cx="378.65" cy="277.18" rx="1.7" ry="2.3" transform="rotate(29.94 378.65 277.18)" fill="#fff" stroke="#333" stroke-width="0.9"/>
<ellipse cx="386.81" cy="271.48" rx="1.7" ry="2.3" transform="rotate(29.94 386.81 271.48)" fill="#fff" stroke="#333" stroke-width="0.9"/>
<ellipse cx="394.89" cy="268.79" rx="1.7" ry="2.3" transform="rotate(29.94 394.89 268.79)" fill="#fff" stroke="#333" stroke-width="0.9"/>
<ellipse cx="402.1" cy="269.38" rx="1.7" ry="2.3" transform="rotate(29.94 402.1 269.38)" fill="#fff" stroke="#333" stroke-width="0.9"/>
<polyline points="404.91,278.53 404.21,277.67 403.44,276.89 402.62,276.2 401.73,275.59 400.8,275.08 399.81,274.66 398.78,274.33 397.7,274.1 396.59,273.97 395.44,273.93 394.25,273.99 393.04,274.14 391.8,274.39 390.55,274.74 389.27,275.17 387.99,275.71 386.7,276.33 385.41,277.04 384.12,277.83 382.84,278.71 381.56,279.67 380.31,280.71 379.07,281.82 377.85,282.99" fill="none" stroke="#444" stroke-width="0.9" stroke-linejoin="round" stroke-linecap="round" />
<polyline points="365.55,303.76 365.12,305.3 364.75,306.82 364.44,308.33 364.2,309.82 364.02,311.29 363.9,312.73 363.85,314.15 363.87,315.53 363.95,316.87 364.09,318.16 364.3,319.41 364.57,320.61 364.91,321.76 365.3,322.85 365.76,323.88 366.28,324.84 366.85,325.74 367.48,326.57 368.17,327.33 368.91,328.02 369.69,328.63 370.53,329.16 371.41,329.62 372.33,329.99" fill="none" stroke="#444" stroke-width="0.9" stroke-linejoin="round" stroke-linecap="round" />
<path d="M397.58,282.2 A13.69 23.2 29.94 0 0 374.42,322.4 L432.82,355.41 A13.69 23.2 29.94 0 0 455.98,315.2 Z" fill="#fff" stroke="none" stroke-width="0" stroke-linejoin="round" />
<line x1="405.5" y1="286.67" x2="455.98" y2="315.2" stroke="#2e2e2e" stroke-width="1.2" />
<line x1="378.5" y1="324.71" x2="432.82" y2="355.41" stroke="#2e2e2e" stroke-width="1.2" />
<path d="M383.3,292.97 Q391,285.47 405.5,286.67" fill="none" stroke="#333" stroke-width="1.0"/>
<path d="M400.5,278.17 Q404.5,281.67 406,287.17" fill="none" stroke="#444" stroke-width="0.8"/>
<path d="M376.8,308.21 Q374.6,316.71 380,324.21" fill="none" stroke="#333" stroke-width="1.0"/>
<path d="M467.26,298.62 A25.49 43.2 29.94 0 0 424.14,373.49 L428.04,375.73 A25.49 43.2 29.94 0 0 471.16,300.87 Z" fill="#e0e0e0" stroke="#2e2e2e" stroke-width="1.3" stroke-linejoin="round" />
<polyline points="468.12,299.18 465.04,298.11 461.67,297.68 458.08,297.87 454.32,298.7 450.46,300.15 446.55,302.18 442.66,304.79 438.85,307.91 435.19,311.5 431.72,315.5 428.51,319.85 425.61,324.48 423.06,329.31 420.91,334.27 419.18,339.28 417.92,344.25 417.13,349.11 416.83,353.78 417.03,358.19 417.72,362.25 418.89,365.92 420.52,369.12 422.58,371.82 425.05,373.95" fill="none" stroke="#2e2e2e" stroke-width="0.7" stroke-linejoin="round" stroke-linecap="round" />
<ellipse cx="449.6" cy="338.3" rx="25.49" ry="43.2" transform="rotate(29.94 449.6 338.3)" fill="#fff" stroke="#2e2e2e" stroke-width="1.3" />
<ellipse cx="449.6" cy="338.3" rx="24.66" ry="41.8" transform="rotate(29.94 449.6 338.3)" fill="none" stroke="#2e2e2e" stroke-width="0.7" />
<ellipse cx="469.09" cy="306.65" rx="1.7" ry="2.3" transform="rotate(29.94 469.09 306.65)" fill="#fff" stroke="#333" stroke-width="0.9"/>
<ellipse cx="473.72" cy="312.08" rx="1.7" ry="2.3" transform="rotate(29.94 473.72 312.08)" fill="#fff" stroke="#333" stroke-width="0.9"/>
<ellipse cx="475.99" cy="320.07" rx="1.7" ry="2.3" transform="rotate(29.94 475.99 320.07)" fill="#fff" stroke="#333" stroke-width="0.9"/>
<ellipse cx="475.68" cy="329.85" rx="1.7" ry="2.3" transform="rotate(29.94 475.68 329.85)" fill="#fff" stroke="#333" stroke-width="0.9"/>
<ellipse cx="472.81" cy="340.46" rx="1.7" ry="2.3" transform="rotate(29.94 472.81 340.46)" fill="#fff" stroke="#333" stroke-width="0.9"/>
<ellipse cx="467.67" cy="350.85" rx="1.7" ry="2.3" transform="rotate(29.94 467.67 350.85)" fill="#fff" stroke="#333" stroke-width="0.9"/>
<ellipse cx="460.76" cy="360.02" rx="1.7" ry="2.3" transform="rotate(29.94 460.76 360.02)" fill="#fff" stroke="#333" stroke-width="0.9"/>
<ellipse cx="452.76" cy="367.06" rx="1.7" ry="2.3" transform="rotate(29.94 452.76 367.06)" fill="#fff" stroke="#333" stroke-width="0.9"/>
<ellipse cx="444.45" cy="371.28" rx="1.7" ry="2.3" transform="rotate(29.94 444.45 371.28)" fill="#fff" stroke="#333" stroke-width="0.9"/>
<ellipse cx="436.64" cy="372.28" rx="1.7" ry="2.3" transform="rotate(29.94 436.64 372.28)" fill="#fff" stroke="#333" stroke-width="0.9"/>
<ellipse cx="430.11" cy="369.95" rx="1.7" ry="2.3" transform="rotate(29.94 430.11 369.95)" fill="#fff" stroke="#333" stroke-width="0.9"/>
<ellipse cx="425.48" cy="364.52" rx="1.7" ry="2.3" transform="rotate(29.94 425.48 364.52)" fill="#fff" stroke="#333" stroke-width="0.9"/>
<ellipse cx="423.21" cy="356.53" rx="1.7" ry="2.3" transform="rotate(29.94 423.21 356.53)" fill="#fff" stroke="#333" stroke-width="0.9"/>
<ellipse cx="423.52" cy="346.75" rx="1.7" ry="2.3" transform="rotate(29.94 423.52 346.75)" fill="#fff" stroke="#333" stroke-width="0.9"/>
<ellipse cx="426.39" cy="336.14" rx="1.7" ry="2.3" transform="rotate(29.94 426.39 336.14)" fill="#fff" stroke="#333" stroke-width="0.9"/>
<ellipse cx="431.53" cy="325.75" rx="1.7" ry="2.3" transform="rotate(29.94 431.53 325.75)" fill="#fff" stroke="#333" stroke-width="0.9"/>
<ellipse cx="438.44" cy="316.58" rx="1.7" ry="2.3" transform="rotate(29.94 438.44 316.58)" fill="#fff" stroke="#333" stroke-width="0.9"/>
<ellipse cx="446.44" cy="309.54" rx="1.7" ry="2.3" transform="rotate(29.94 446.44 309.54)" fill="#fff" stroke="#333" stroke-width="0.9"/>
<ellipse cx="454.75" cy="305.32" rx="1.7" ry="2.3" transform="rotate(29.94 454.75 305.32)" fill="#fff" stroke="#333" stroke-width="0.9"/>
<ellipse cx="462.56" cy="304.32" rx="1.7" ry="2.3" transform="rotate(29.94 462.56 304.32)" fill="#fff" stroke="#333" stroke-width="0.9"/>
<ellipse cx="449.6" cy="338.3" rx="18.88" ry="32" transform="rotate(29.94 449.6 338.3)" fill="#fff" stroke="#2e2e2e" stroke-width="1.2" />
<ellipse cx="449.6" cy="338.3" rx="18.05" ry="30.6" transform="rotate(29.94 449.6 338.3)" fill="#bdbdbd" stroke="#2e2e2e" stroke-width="0.7" />
<line x1="461.08" y1="318.37" x2="464.87" y2="311.78" stroke="#555" stroke-width="0.5" />
<line x1="462.52" y1="319.42" x2="466.78" y2="313.19" stroke="#555" stroke-width="0.5" />
<line x1="463.73" y1="320.8" x2="468.4" y2="315.02" stroke="#555" stroke-width="0.5" />
<line x1="464.71" y1="322.48" x2="469.7" y2="317.25" stroke="#555" stroke-width="0.5" />
<line x1="465.42" y1="324.43" x2="470.65" y2="319.84" stroke="#555" stroke-width="0.5" />
<line x1="465.87" y1="326.61" x2="471.24" y2="322.75" stroke="#555" stroke-width="0.5" />
<line x1="466.03" y1="329" x2="471.46" y2="325.92" stroke="#555" stroke-width="0.5" />
<line x1="465.92" y1="331.54" x2="471.31" y2="329.31" stroke="#555" stroke-width="0.5" />
<line x1="465.52" y1="334.2" x2="470.78" y2="332.85" stroke="#555" stroke-width="0.5" />
<line x1="464.86" y1="336.93" x2="469.9" y2="336.48" stroke="#555" stroke-width="0.5" />
<line x1="463.93" y1="339.68" x2="468.66" y2="340.14" stroke="#555" stroke-width="0.5" />
<line x1="462.76" y1="342.41" x2="467.1" y2="343.77" stroke="#555" stroke-width="0.5" />
<line x1="461.36" y1="345.07" x2="465.24" y2="347.31" stroke="#555" stroke-width="0.5" />
<line x1="459.76" y1="347.62" x2="463.12" y2="350.7" stroke="#555" stroke-width="0.5" />
<line x1="457.99" y1="350" x2="460.76" y2="353.87" stroke="#555" stroke-width="0.5" />
<line x1="456.07" y1="352.18" x2="458.21" y2="356.77" stroke="#555" stroke-width="0.5" />
<line x1="454.04" y1="354.13" x2="455.51" y2="359.36" stroke="#555" stroke-width="0.5" />
<line x1="451.94" y1="355.81" x2="452.71" y2="361.59" stroke="#555" stroke-width="0.5" />
<line x1="449.8" y1="357.18" x2="449.86" y2="363.42" stroke="#555" stroke-width="0.5" />
<line x1="447.65" y1="358.23" x2="447.01" y2="364.82" stroke="#555" stroke-width="0.5" />
<line x1="445.54" y1="358.95" x2="444.2" y2="365.77" stroke="#555" stroke-width="0.5" />
<line x1="443.49" y1="359.31" x2="441.48" y2="366.25" stroke="#555" stroke-width="0.5" />
<line x1="441.55" y1="359.3" x2="438.9" y2="366.24" stroke="#555" stroke-width="0.5" />
<line x1="439.75" y1="358.94" x2="436.5" y2="365.77" stroke="#555" stroke-width="0.5" />
<line x1="438.12" y1="358.23" x2="434.33" y2="364.82" stroke="#555" stroke-width="0.5" />
<line x1="436.68" y1="357.18" x2="432.42" y2="363.41" stroke="#555" stroke-width="0.5" />
<line x1="435.47" y1="355.8" x2="430.8" y2="361.58" stroke="#555" stroke-width="0.5" />
<line x1="434.49" y1="354.12" x2="429.5" y2="359.35" stroke="#555" stroke-width="0.5" />
<line x1="433.78" y1="352.17" x2="428.55" y2="356.76" stroke="#555" stroke-width="0.5" />
<line x1="433.33" y1="349.99" x2="427.96" y2="353.85" stroke="#555" stroke-width="0.5" />
<line x1="433.17" y1="347.6" x2="427.74" y2="350.68" stroke="#555" stroke-width="0.5" />
<line x1="433.28" y1="345.06" x2="427.89" y2="347.29" stroke="#555" stroke-width="0.5" />
<line x1="433.68" y1="342.4" x2="428.42" y2="343.75" stroke="#555" stroke-width="0.5" />
<line x1="434.34" y1="339.67" x2="429.3" y2="340.12" stroke="#555" stroke-width="0.5" />
<line x1="435.27" y1="336.92" x2="430.54" y2="336.46" stroke="#555" stroke-width="0.5" />
<line x1="436.44" y1="334.19" x2="432.1" y2="332.83" stroke="#555" stroke-width="0.5" />
<line x1="437.84" y1="331.53" x2="433.96" y2="329.29" stroke="#555" stroke-width="0.5" />
<line x1="439.44" y1="328.98" x2="436.08" y2="325.9" stroke="#555" stroke-width="0.5" />
<line x1="441.21" y1="326.6" x2="438.44" y2="322.73" stroke="#555" stroke-width="0.5" />
<line x1="443.13" y1="324.42" x2="440.99" y2="319.83" stroke="#555" stroke-width="0.5" />
<line x1="445.16" y1="322.47" x2="443.69" y2="317.24" stroke="#555" stroke-width="0.5" />
<line x1="447.26" y1="320.79" x2="446.49" y2="315.01" stroke="#555" stroke-width="0.5" />
<line x1="449.4" y1="319.42" x2="449.34" y2="313.18" stroke="#555" stroke-width="0.5" />
<line x1="451.55" y1="318.37" x2="452.19" y2="311.78" stroke="#555" stroke-width="0.5" />
<line x1="453.66" y1="317.65" x2="455" y2="310.83" stroke="#555" stroke-width="0.5" />
<line x1="455.71" y1="317.29" x2="457.72" y2="310.35" stroke="#555" stroke-width="0.5" />
<line x1="457.65" y1="317.3" x2="460.3" y2="310.36" stroke="#555" stroke-width="0.5" />
<line x1="459.45" y1="317.66" x2="462.7" y2="310.83" stroke="#555" stroke-width="0.5" />
<path d="M454.12,316.44 A12.51 21.2 29.94 0 0 432.95,353.18 L442.05,358.42 A12.51 21.2 29.94 0 0 463.21,321.68 Z" fill="#fff" stroke="#2e2e2e" stroke-width="1.1" stroke-linejoin="round" />
<line x1="451.11" y1="315.46" x2="460.2" y2="320.7" stroke="#333" stroke-width="0.9" />
<line x1="450.62" y1="315.91" x2="457.99" y2="320.15" stroke="#777" stroke-width="0.6" />
<line x1="447.69" y1="315.68" x2="456.79" y2="320.92" stroke="#333" stroke-width="0.9" />
<line x1="447.08" y1="316.59" x2="454.45" y2="320.84" stroke="#777" stroke-width="0.6" />
<line x1="444.03" y1="317.04" x2="453.12" y2="322.28" stroke="#333" stroke-width="0.9" />
<line x1="443.38" y1="318.4" x2="450.74" y2="322.65" stroke="#777" stroke-width="0.6" />
<line x1="440.33" y1="319.46" x2="449.43" y2="324.7" stroke="#333" stroke-width="0.9" />
<line x1="439.74" y1="321.23" x2="447.1" y2="325.47" stroke="#777" stroke-width="0.6" />
<line x1="436.83" y1="322.81" x2="445.93" y2="328.05" stroke="#333" stroke-width="0.9" />
<line x1="436.37" y1="324.89" x2="443.74" y2="329.13" stroke="#777" stroke-width="0.6" />
<line x1="433.73" y1="326.87" x2="442.83" y2="332.12" stroke="#333" stroke-width="0.9" />
<line x1="433.49" y1="329.18" x2="440.86" y2="333.42" stroke="#777" stroke-width="0.6" />
<line x1="431.22" y1="331.42" x2="440.32" y2="336.66" stroke="#333" stroke-width="0.9" />
<line x1="431.27" y1="333.84" x2="438.63" y2="338.08" stroke="#777" stroke-width="0.6" />
<line x1="429.45" y1="336.16" x2="438.54" y2="341.4" stroke="#333" stroke-width="0.9" />
<line x1="429.83" y1="338.58" x2="437.19" y2="342.83" stroke="#777" stroke-width="0.6" />
<line x1="428.52" y1="340.82" x2="437.61" y2="346.06" stroke="#333" stroke-width="0.9" />
<line x1="429.26" y1="343.13" x2="436.63" y2="347.37" stroke="#777" stroke-width="0.6" />
<line x1="428.49" y1="345.12" x2="437.59" y2="350.36" stroke="#333" stroke-width="0.9" />
<line x1="429.6" y1="347.21" x2="436.97" y2="351.45" stroke="#777" stroke-width="0.6" />
<line x1="429.36" y1="348.81" x2="438.46" y2="354.05" stroke="#333" stroke-width="0.9" />
<line x1="430.83" y1="350.58" x2="438.2" y2="354.82" stroke="#777" stroke-width="0.6" />
<line x1="431.08" y1="351.65" x2="440.18" y2="356.89" stroke="#333" stroke-width="0.9" />
<line x1="432.87" y1="353.03" x2="440.24" y2="357.27" stroke="#777" stroke-width="0.6" />
<ellipse cx="452.63" cy="340.05" rx="11.56" ry="19.6" transform="rotate(29.94 452.63 340.05)" fill="#fff" stroke="#2e2e2e" stroke-width="1.2" />
<ellipse cx="453.07" cy="340.3" rx="8.61" ry="14.6" transform="rotate(29.94 453.07 340.3)" fill="#fff" stroke="#2e2e2e" stroke-width="1.2" />
<clipPath id="c6"><ellipse cx="453.07" cy="340.3" rx="8.61" ry="14.6" transform="rotate(29.94 453.07 340.3)"/></clipPath>
<g clip-path="url(#c6)">
<line x1="393.07" y1="305.74" x2="513.07" y2="374.86" stroke="#2e2e2e" stroke-width="0.9" />
</g>
<ellipse cx="492.9" cy="362.9" rx="16.05" ry="27.2" transform="rotate(29.94 492.9 362.9)" fill="#d4d4d4" stroke="#2e2e2e" stroke-width="1.3" />
<ellipse cx="492.9" cy="362.9" rx="15.22" ry="25.8" transform="rotate(29.94 492.9 362.9)" fill="none" stroke="#2e2e2e" stroke-width="0.6" />
<ellipse cx="492.9" cy="362.9" rx="12.63" ry="21.4" transform="rotate(29.94 492.9 362.9)" fill="#fff" stroke="#2e2e2e" stroke-width="1.3" />
<clipPath id="c7"><ellipse cx="492.9" cy="362.9" rx="12.63" ry="21.4" transform="rotate(29.94 492.9 362.9)"/></clipPath>
<g clip-path="url(#c7)">
<line x1="432.9" y1="328.34" x2="552.9" y2="397.46" stroke="#2e2e2e" stroke-width="0.9" />
</g>
<path d="M543.44,359.43 A17.58 29.8 29.94 0 0 513.69,411.08 L516.73,412.82 A17.58 29.8 29.94 0 0 546.47,361.18 Z" fill="#dcdcdc" stroke="#2e2e2e" stroke-width="1.3" stroke-linejoin="round" />
<ellipse cx="531.6" cy="387" rx="17.58" ry="29.8" transform="rotate(29.94 531.6 387)" fill="#fff" stroke="#2e2e2e" stroke-width="1.3" />
<ellipse cx="531.6" cy="387" rx="16.64" ry="28.2" transform="rotate(29.94 531.6 387)" fill="none" stroke="#2e2e2e" stroke-width="0.7" />
<path d="M545.51,363.85 A15.93 27 29.94 0 0 518.56,410.65 L564.22,435.38 A15.58 26.4 29.94 0 0 590.58,389.62 Z" fill="#fff" stroke="#2e2e2e" stroke-width="1.3" stroke-linejoin="round" />
<path d="M549.66,366.05 L588.74,389.25 L586.31,388.49 L547.18,365.27 Q546.29,364.34 549.66,366.05 Z" fill="#fff" stroke="#2a2a2a" stroke-width="1.1" stroke-linejoin="round"/>
<line x1="548.9" y1="366.98" x2="587.22" y2="389.51" stroke="#666" stroke-width="0.6" />
<line x1="545.43" y1="366.22" x2="584.66" y2="389.25" stroke="#444" stroke-width="0.9" />
<path d="M537.84,366.99 L577.17,390.17 L573.38,392.47 L533.96,369.34 Q533.73,366.81 537.84,366.99 Z" fill="#fff" stroke="#2a2a2a" stroke-width="1.1" stroke-linejoin="round"/>
<line x1="536.79" y1="369.36" x2="575.3" y2="391.86" stroke="#666" stroke-width="0.6" />
<line x1="532.63" y1="371.38" x2="572.05" y2="394.34" stroke="#444" stroke-width="0.9" />
<path d="M523.89,380.34 L563.53,403.22 L560.96,407.87 L521.26,385.09 Q520.34,381.43 523.89,380.34 Z" fill="#fff" stroke="#2a2a2a" stroke-width="1.1" stroke-linejoin="round"/>
<line x1="523.89" y1="383.44" x2="562.6" y2="405.72" stroke="#666" stroke-width="0.6" />
<line x1="521.1" y1="387.18" x2="560.7" y2="409.9" stroke="#444" stroke-width="0.9" />
<path d="M517.38,399.73 L557.17,422.18 L557.38,426.44 L517.6,404.08 Q515.23,400.72 517.38,399.73 Z" fill="#fff" stroke="#2a2a2a" stroke-width="1.1" stroke-linejoin="round"/>
<line x1="518.98" y1="402.02" x2="557.75" y2="424.02" stroke="#666" stroke-width="0.6" />
<line x1="518.74" y1="404.99" x2="558.37" y2="427.43" stroke="#444" stroke-width="0.9" />
<path d="M520.82,411.61 L560.53,433.8 L562.46,435.46 L522.79,413.3 Q519.59,411.28 520.82,411.61 Z" fill="#fff" stroke="#2a2a2a" stroke-width="1.1" stroke-linejoin="round"/>
<line x1="523.18" y1="412.2" x2="561.89" y2="434.04" stroke="#666" stroke-width="0.6" />
<line x1="524.48" y1="412.87" x2="564.03" y2="435.19" stroke="#444" stroke-width="0.9" />
<polyline points="588.01,388.18 586.19,387 584.11,386.27 581.83,386 579.39,386.2 576.84,386.87 574.22,387.99 571.59,389.54 568.99,391.49 566.48,393.81 564.11,396.44 561.92,399.34 559.95,402.45 558.25,405.71 556.84,409.06 555.75,412.44 555.01,415.77 554.62,418.99 554.6,422.05 554.95,424.87 555.65,427.42 556.7,429.63 558.08,431.47 559.75,432.89 561.69,433.88" fill="none" stroke="#444" stroke-width="0.7" stroke-linejoin="round" stroke-linecap="round" />
<ellipse cx="577.4" cy="412.5" rx="15.58" ry="26.4" transform="rotate(29.94 577.4 412.5)" fill="#c4c4c4" stroke="#2e2e2e" stroke-width="1.3" />
<line x1="588.13" y1="393.87" x2="590.58" y2="389.62" stroke="#555" stroke-width="0.5" />
<line x1="589.29" y1="394.7" x2="592.01" y2="390.64" stroke="#555" stroke-width="0.5" />
<line x1="590.31" y1="395.75" x2="593.25" y2="391.93" stroke="#555" stroke-width="0.5" />
<line x1="591.16" y1="397.01" x2="594.3" y2="393.48" stroke="#555" stroke-width="0.5" />
<line x1="591.84" y1="398.46" x2="595.13" y2="395.26" stroke="#555" stroke-width="0.5" />
<line x1="592.33" y1="400.09" x2="595.74" y2="397.27" stroke="#555" stroke-width="0.5" />
<line x1="592.64" y1="401.88" x2="596.12" y2="399.46" stroke="#555" stroke-width="0.5" />
<line x1="592.76" y1="403.8" x2="596.26" y2="401.82" stroke="#555" stroke-width="0.5" />
<line x1="592.68" y1="405.83" x2="596.17" y2="404.31" stroke="#555" stroke-width="0.5" />
<line x1="592.42" y1="407.95" x2="595.84" y2="406.91" stroke="#555" stroke-width="0.5" />
<line x1="591.96" y1="410.12" x2="595.28" y2="409.58" stroke="#555" stroke-width="0.5" />
<line x1="591.32" y1="412.32" x2="594.49" y2="412.28" stroke="#555" stroke-width="0.5" />
<line x1="590.5" y1="414.53" x2="593.49" y2="414.99" stroke="#555" stroke-width="0.5" />
<line x1="589.52" y1="416.71" x2="592.29" y2="417.66" stroke="#555" stroke-width="0.5" />
<line x1="588.39" y1="418.83" x2="590.9" y2="420.27" stroke="#555" stroke-width="0.5" />
<line x1="587.12" y1="420.88" x2="589.34" y2="422.79" stroke="#555" stroke-width="0.5" />
<line x1="585.73" y1="422.82" x2="587.63" y2="425.17" stroke="#555" stroke-width="0.5" />
<line x1="584.23" y1="424.63" x2="585.79" y2="427.39" stroke="#555" stroke-width="0.5" />
<line x1="582.65" y1="426.29" x2="583.84" y2="429.43" stroke="#555" stroke-width="0.5" />
<line x1="581" y1="427.77" x2="581.82" y2="431.25" stroke="#555" stroke-width="0.5" />
<line x1="579.3" y1="429.07" x2="579.74" y2="432.84" stroke="#555" stroke-width="0.5" />
<line x1="577.58" y1="430.15" x2="577.63" y2="434.17" stroke="#555" stroke-width="0.5" />
<line x1="575.86" y1="431.01" x2="575.51" y2="435.23" stroke="#555" stroke-width="0.5" />
<line x1="574.16" y1="431.64" x2="573.42" y2="436.01" stroke="#555" stroke-width="0.5" />
<line x1="572.5" y1="432.03" x2="571.38" y2="436.48" stroke="#555" stroke-width="0.5" />
<line x1="570.9" y1="432.18" x2="569.42" y2="436.66" stroke="#555" stroke-width="0.5" />
<line x1="569.38" y1="432.07" x2="567.56" y2="436.53" stroke="#555" stroke-width="0.5" />
<line x1="567.97" y1="431.72" x2="565.82" y2="436.1" stroke="#555" stroke-width="0.5" />
<line x1="566.67" y1="431.13" x2="564.22" y2="435.38" stroke="#555" stroke-width="0.5" />
<line x1="565.51" y1="430.3" x2="562.79" y2="434.36" stroke="#555" stroke-width="0.5" />
<line x1="564.49" y1="429.25" x2="561.55" y2="433.07" stroke="#555" stroke-width="0.5" />
<line x1="563.64" y1="427.99" x2="560.5" y2="431.52" stroke="#555" stroke-width="0.5" />
<line x1="562.96" y1="426.54" x2="559.67" y2="429.74" stroke="#555" stroke-width="0.5" />
<line x1="562.47" y1="424.91" x2="559.06" y2="427.73" stroke="#555" stroke-width="0.5" />
<line x1="562.16" y1="423.12" x2="558.68" y2="425.54" stroke="#555" stroke-width="0.5" />
<line x1="562.04" y1="421.2" x2="558.54" y2="423.18" stroke="#555" stroke-width="0.5" />
<line x1="562.12" y1="419.17" x2="558.63" y2="420.69" stroke="#555" stroke-width="0.5" />
<line x1="562.38" y1="417.05" x2="558.96" y2="418.09" stroke="#555" stroke-width="0.5" />
<line x1="562.84" y1="414.88" x2="559.52" y2="415.42" stroke="#555" stroke-width="0.5" />
<line x1="563.48" y1="412.68" x2="560.31" y2="412.72" stroke="#555" stroke-width="0.5" />
<line x1="564.3" y1="410.47" x2="561.31" y2="410.01" stroke="#555" stroke-width="0.5" />
<line x1="565.28" y1="408.29" x2="562.51" y2="407.34" stroke="#555" stroke-width="0.5" />
<line x1="566.41" y1="406.17" x2="563.9" y2="404.73" stroke="#555" stroke-width="0.5" />
<line x1="567.68" y1="404.12" x2="565.46" y2="402.21" stroke="#555" stroke-width="0.5" />
<line x1="569.07" y1="402.18" x2="567.17" y2="399.83" stroke="#555" stroke-width="0.5" />
<line x1="570.57" y1="400.37" x2="569.01" y2="397.61" stroke="#555" stroke-width="0.5" />
<line x1="572.15" y1="398.71" x2="570.96" y2="395.57" stroke="#555" stroke-width="0.5" />
<line x1="573.8" y1="397.23" x2="572.98" y2="393.75" stroke="#555" stroke-width="0.5" />
<line x1="575.5" y1="395.93" x2="575.06" y2="392.16" stroke="#555" stroke-width="0.5" />
<line x1="577.22" y1="394.85" x2="577.17" y2="390.83" stroke="#555" stroke-width="0.5" />
<line x1="578.94" y1="393.99" x2="579.29" y2="389.77" stroke="#555" stroke-width="0.5" />
<line x1="580.64" y1="393.36" x2="581.38" y2="388.99" stroke="#555" stroke-width="0.5" />
<line x1="582.3" y1="392.97" x2="583.42" y2="388.52" stroke="#555" stroke-width="0.5" />
<line x1="583.9" y1="392.82" x2="585.38" y2="388.34" stroke="#555" stroke-width="0.5" />
<line x1="585.42" y1="392.93" x2="587.24" y2="388.47" stroke="#555" stroke-width="0.5" />
<line x1="586.83" y1="393.28" x2="588.98" y2="388.9" stroke="#555" stroke-width="0.5" />
<ellipse cx="577.4" cy="412.5" rx="12.63" ry="21.4" transform="rotate(29.94 577.4 412.5)" fill="#fff" stroke="#2e2e2e" stroke-width="1.1" />
<ellipse cx="576.1" cy="411.75" rx="11.45" ry="19.4" transform="rotate(29.94 576.1 411.75)" fill="none" stroke="#2e2e2e" stroke-width="0.7" />
<ellipse cx="573.93" cy="410.5" rx="10.15" ry="17.2" transform="rotate(29.94 573.93 410.5)" fill="#fff" stroke="#2e2e2e" stroke-width="0.9" />
<clipPath id="c8"><ellipse cx="577.4" cy="412.5" rx="12.63" ry="21.4" transform="rotate(29.94 577.4 412.5)"/></clipPath>
<g clip-path="url(#c8)">
<line x1="517.4" y1="377.94" x2="637.4" y2="447.06" stroke="#2e2e2e" stroke-width="0.9" />
</g>
<path d="M613.69,416.25 A8.61 14.6 29.94 0 0 599.11,441.55 L645.66,469.28 A9.38 15.9 29.94 0 0 661.54,441.72 Z" fill="#fff" stroke="#2e2e2e" stroke-width="1.3" stroke-linejoin="round" />
<path d="M613.69,416.25 A8.61 14.6 29.94 0 0 599.11,441.55 L612.29,449.72 A8.91 15.1 29.94 0 1 627.37,423.55 Z" fill="#e4e4e4" stroke="none" stroke-width="0.0" stroke-linejoin="round"/>
<polyline points="614.38,416.42 612.17,415.8 609.62,416.08 606.91,417.24 604.22,419.2 601.72,421.84 599.58,424.97 597.94,428.39 596.92,431.88 596.57,435.19 596.93,438.12 597.96,440.46 599.61,442.06" fill="none" stroke="#555" stroke-width="0.9"/>
<polyline points="615.87,417.28 613.66,416.66 611.12,416.94 608.41,418.1 605.71,420.06 603.21,422.7 601.07,425.83 599.44,429.25 598.41,432.74 598.06,436.05 598.42,438.98 599.46,441.32 601.1,442.92" fill="none" stroke="#555" stroke-width="0.9"/>
<polyline points="617.37,418.14 615.15,417.52 612.61,417.8 609.9,418.96 607.2,420.92 604.7,423.56 602.56,426.69 600.93,430.11 599.9,433.6 599.56,436.91 599.91,439.84 600.95,442.18 602.59,443.78" fill="none" stroke="#555" stroke-width="0.9"/>
<polyline points="618.86,419 616.65,418.38 614.1,418.66 611.39,419.82 608.7,421.78 606.2,424.42 604.06,427.55 602.42,430.97 601.39,434.46 601.05,437.77 601.41,440.7 602.44,443.04 604.09,444.64" fill="none" stroke="#555" stroke-width="0.9"/>
<polyline points="620.35,419.86 618.14,419.24 615.59,419.52 612.88,420.68 610.19,422.64 607.69,425.28 605.55,428.41 603.91,431.83 602.89,435.32 602.54,438.63 602.9,441.56 603.93,443.9 605.58,445.5" fill="none" stroke="#555" stroke-width="0.9"/>
<polyline points="621.84,420.72 619.63,420.1 617.09,420.38 614.38,421.54 611.68,423.5 609.18,426.14 607.04,429.27 605.4,432.69 604.38,436.18 604.03,439.49 604.39,442.42 605.43,444.76 607.07,446.36" fill="none" stroke="#555" stroke-width="0.9"/>
<polyline points="623.33,421.58 621.12,420.96 618.58,421.24 615.87,422.4 613.17,424.36 610.67,427 608.53,430.13 606.9,433.55 605.87,437.04 605.53,440.35 605.88,443.28 606.92,445.62 608.56,447.22" fill="none" stroke="#555" stroke-width="0.9"/>
<polyline points="624.83,422.44 622.62,421.82 620.07,422.1 617.36,423.26 614.67,425.22 612.17,427.86 610.03,430.99 608.39,434.41 607.36,437.9 607.02,441.21 607.37,444.14 608.41,446.48 610.06,448.08" fill="none" stroke="#555" stroke-width="0.9"/>
<polyline points="626.32,423.3 624.11,422.68 621.56,422.96 618.85,424.12 616.16,426.08 613.66,428.72 611.52,431.85 609.88,435.27 608.86,438.76 608.51,442.07 608.87,445 609.9,447.34 611.55,448.94" fill="none" stroke="#555" stroke-width="0.9"/>
<polyline points="627.74,423.79 626.68,423.22 625.5,422.9 624.21,422.82 622.85,423 621.42,423.42 619.97,424.09 618.52,424.99 617.09,426.09 615.71,427.39 614.4,428.86 613.2,430.47 612.11,432.19 611.17,433.99 610.38,435.84 609.77,437.71 609.33,439.55 609.09,441.35 609.05,443.05 609.2,444.64 609.55,446.09 610.08,447.36 610.79,448.43 611.67,449.3 612.69,449.93" fill="none" stroke="#555" stroke-width="0.8" stroke-linejoin="round" stroke-linecap="round" />
<polyline points="613.69,416.25 612.65,415.8 611.51,415.57 610.28,415.57 608.98,415.79 607.64,416.25 606.27,416.91 604.91,417.79 603.58,418.85 602.29,420.09 601.08,421.47 599.95,422.99 598.94,424.6 598.05,426.29 597.3,428.02 596.72,429.77 596.29,431.5 596.04,433.19 595.97,434.81 596.07,436.32 596.36,437.71 596.81,438.94 597.43,440.01 598.2,440.88 599.11,441.55" fill="none" stroke="#2e2e2e" stroke-width="1.3" stroke-linejoin="round" stroke-linecap="round" />
<ellipse cx="653.6" cy="455.5" rx="9.5" ry="16.1" transform="rotate(29.94 653.6 455.5)" fill="#fff" stroke="#2e2e2e" stroke-width="1.3" />
<ellipse cx="653.6" cy="455.5" rx="8.61" ry="14.6" transform="rotate(29.94 653.6 455.5)" fill="none" stroke="#2e2e2e" stroke-width="0.7" />
<ellipse cx="653.6" cy="455.5" rx="7.79" ry="13.2" transform="rotate(29.94 653.6 455.5)" fill="#6a6a6a" stroke="#2e2e2e" stroke-width="1.1" />
<clipPath id="c9"><ellipse cx="653.6" cy="455.5" rx="6.84" ry="11.6" transform="rotate(29.94 653.6 455.5)"/></clipPath>
<g clip-path="url(#c9)">
<line x1="639.6" y1="439.55" x2="667.6" y2="451.65" stroke="#f2f2f2" stroke-width="1.7" />
<line x1="639.6" y1="442.85" x2="667.6" y2="454.95" stroke="#f2f2f2" stroke-width="1.7" />
<line x1="639.6" y1="446.15" x2="667.6" y2="458.25" stroke="#f2f2f2" stroke-width="1.7" />
<line x1="639.6" y1="449.45" x2="667.6" y2="461.55" stroke="#f2f2f2" stroke-width="1.7" />
<line x1="639.6" y1="452.75" x2="667.6" y2="464.85" stroke="#f2f2f2" stroke-width="1.7" />
<line x1="639.6" y1="456.05" x2="667.6" y2="468.15" stroke="#f2f2f2" stroke-width="1.7" />
<line x1="639.6" y1="459.35" x2="667.6" y2="471.45" stroke="#f2f2f2" stroke-width="1.7" />
</g>
<line x1="662" y1="461.7" x2="705" y2="486.47" stroke="#2e2e2e" stroke-width="0.9" />
<circle cx="692.46" cy="457.41" r="3.7" fill="#fff" stroke="#3a3a3a" stroke-width="1.15"/>
<circle cx="695.17" cy="462.3" r="3.7" fill="#fff" stroke="#3a3a3a" stroke-width="1.15"/>
<circle cx="695" cy="469.51" r="3.7" fill="#fff" stroke="#3a3a3a" stroke-width="1.15"/>
<circle cx="691.99" cy="477.37" r="3.7" fill="#fff" stroke="#3a3a3a" stroke-width="1.15"/>
<circle cx="686.83" cy="484.1" r="3.7" fill="#fff" stroke="#3a3a3a" stroke-width="1.15"/>
<circle cx="680.7" cy="488.15" r="3.7" fill="#fff" stroke="#3a3a3a" stroke-width="1.15"/>
<circle cx="675.01" cy="488.59" r="3.7" fill="#fff" stroke="#3a3a3a" stroke-width="1.15"/>
<circle cx="671.05" cy="485.32" r="3.7" fill="#fff" stroke="#3a3a3a" stroke-width="1.15"/>
<circle cx="669.74" cy="479.09" r="3.7" fill="#fff" stroke="#3a3a3a" stroke-width="1.15"/>
<circle cx="671.38" cy="471.33" r="3.7" fill="#fff" stroke="#3a3a3a" stroke-width="1.15"/>
<circle cx="675.59" cy="463.81" r="3.7" fill="#fff" stroke="#3a3a3a" stroke-width="1.15"/>
<circle cx="681.4" cy="458.26" r="3.7" fill="#fff" stroke="#3a3a3a" stroke-width="1.15"/>
<circle cx="687.49" cy="455.95" r="3.7" fill="#fff" stroke="#3a3a3a" stroke-width="1.15"/>
<path d="M711.09,478.07 A6.49 11 29.94 0 0 700.11,497.13 L831.56,571.58 A5.84 9.9 29.94 0 0 841.44,554.42 Z" fill="#fff" stroke="#2e2e2e" stroke-width="1.1" stroke-linejoin="round" />
<path d="M711.09,478.07 A6.49 11 29.94 0 0 700.11,497.13 L726.97,512.6 A6.49 11 29.94 0 1 737.95,493.54 Z" fill="#bdbdbd" stroke="none" stroke-width="0" stroke-linejoin="round"/>
<polyline points="711.72,478.44 710.08,477.97 708.19,478.18 706.17,479.04 704.17,480.5 702.31,482.46 700.72,484.79 699.51,487.33 698.74,489.92 698.49,492.39 698.75,494.56 699.52,496.3 700.74,497.49" fill="none" stroke="#3a3a3a" stroke-width="0.9"/>
<polyline points="713.22,479.29 711.57,478.83 709.68,479.04 707.67,479.9 705.66,481.36 703.8,483.32 702.21,485.65 701,488.19 700.24,490.78 699.98,493.25 700.24,495.42 701.01,497.16 702.24,498.35" fill="none" stroke="#3a3a3a" stroke-width="0.9"/>
<polyline points="714.71,480.15 713.06,479.69 711.17,479.9 709.16,480.76 707.16,482.22 705.3,484.18 703.71,486.51 702.49,489.05 701.73,491.64 701.47,494.11 701.74,496.28 702.51,498.02 703.73,499.21" fill="none" stroke="#3a3a3a" stroke-width="0.9"/>
<polyline points="716.2,481.01 714.56,480.55 712.66,480.76 710.65,481.62 708.65,483.08 706.79,485.04 705.2,487.37 703.98,489.91 703.22,492.5 702.96,494.97 703.23,497.14 704,498.88 705.22,500.07" fill="none" stroke="#3a3a3a" stroke-width="0.9"/>
<polyline points="717.69,481.87 716.05,481.41 714.16,481.62 712.14,482.48 710.14,483.94 708.28,485.9 706.69,488.23 705.48,490.77 704.71,493.36 704.46,495.83 704.72,498 705.49,499.74 706.71,500.93" fill="none" stroke="#3a3a3a" stroke-width="0.9"/>
<polyline points="719.18,482.73 717.54,482.27 715.65,482.48 713.64,483.34 711.63,484.8 709.77,486.76 708.18,489.09 706.97,491.63 706.21,494.22 705.95,496.69 706.21,498.86 706.98,500.6 708.21,501.79" fill="none" stroke="#3a3a3a" stroke-width="0.9"/>
<polyline points="720.68,483.59 719.03,483.13 717.14,483.34 715.13,484.2 713.12,485.66 711.27,487.62 709.68,489.95 708.46,492.49 707.7,495.08 707.44,497.55 707.71,499.72 708.48,501.46 709.7,502.65" fill="none" stroke="#3a3a3a" stroke-width="0.9"/>
<polyline points="722.17,484.45 720.53,483.99 718.63,484.2 716.62,485.06 714.62,486.52 712.76,488.48 711.17,490.81 709.95,493.35 709.19,495.94 708.93,498.41 709.2,500.58 709.97,502.32 711.19,503.51" fill="none" stroke="#3a3a3a" stroke-width="0.9"/>
<polyline points="723.66,485.31 722.02,484.85 720.13,485.06 718.11,485.92 716.11,487.38 714.25,489.34 712.66,491.67 711.44,494.21 710.68,496.8 710.43,499.27 710.69,501.44 711.46,503.18 712.68,504.37" fill="none" stroke="#3a3a3a" stroke-width="0.9"/>
<polyline points="725.15,486.17 723.51,485.71 721.62,485.92 719.6,486.78 717.6,488.24 715.74,490.2 714.15,492.53 712.94,495.07 712.18,497.66 711.92,500.13 712.18,502.3 712.95,504.04 714.18,505.23" fill="none" stroke="#3a3a3a" stroke-width="0.9"/>
<polyline points="726.65,487.03 725,486.57 723.11,486.78 721.1,487.64 719.09,489.1 717.24,491.06 715.65,493.39 714.43,495.93 713.67,498.52 713.41,500.98 713.68,503.16 714.45,504.9 715.67,506.09" fill="none" stroke="#3a3a3a" stroke-width="0.9"/>
<polyline points="728.14,487.89 726.5,487.43 724.6,487.64 722.59,488.5 720.59,489.96 718.73,491.92 717.14,494.25 715.92,496.79 715.16,499.38 714.9,501.84 715.17,504.02 715.94,505.76 717.16,506.95" fill="none" stroke="#3a3a3a" stroke-width="0.9"/>
<polyline points="729.63,488.75 727.99,488.29 726.1,488.5 724.08,489.36 722.08,490.82 720.22,492.78 718.63,495.11 717.41,497.65 716.65,500.24 716.4,502.7 716.66,504.88 717.43,506.62 718.65,507.81" fill="none" stroke="#3a3a3a" stroke-width="0.9"/>
<polyline points="731.12,489.61 729.48,489.15 727.59,489.36 725.57,490.22 723.57,491.68 721.71,493.64 720.12,495.97 718.91,498.51 718.14,501.1 717.89,503.56 718.15,505.74 718.92,507.48 720.15,508.67" fill="none" stroke="#3a3a3a" stroke-width="0.9"/>
<polyline points="732.62,490.47 730.97,490.01 729.08,490.22 727.07,491.08 725.06,492.54 723.21,494.5 721.62,496.82 720.4,499.37 719.64,501.96 719.38,504.42 719.64,506.6 720.41,508.34 721.64,509.53" fill="none" stroke="#3a3a3a" stroke-width="0.9"/>
<polyline points="734.11,491.33 732.46,490.87 730.57,491.08 728.56,491.94 726.56,493.4 724.7,495.36 723.11,497.68 721.89,500.23 721.13,502.82 720.87,505.28 721.14,507.46 721.91,509.2 723.13,510.39" fill="none" stroke="#3a3a3a" stroke-width="0.9"/>
<polyline points="735.6,492.19 733.96,491.73 732.07,491.94 730.05,492.8 728.05,494.26 726.19,496.22 724.6,498.54 723.38,501.09 722.62,503.68 722.36,506.14 722.63,508.32 723.4,510.06 724.62,511.25" fill="none" stroke="#3a3a3a" stroke-width="0.9"/>
<polyline points="737.09,493.05 735.45,492.59 733.56,492.8 731.54,493.66 729.54,495.12 727.68,497.07 726.09,499.4 724.88,501.95 724.11,504.54 723.86,507 724.12,509.18 724.89,510.92 726.11,512.11" fill="none" stroke="#3a3a3a" stroke-width="0.9"/>
<polyline points="710.67,478.39 709.12,478.56 707.47,479.17 705.82,480.19 704.21,481.58 702.74,483.28 701.46,485.21 700.43,487.29 699.7,489.42 699.3,491.5 699.24,493.45 699.54,495.18 700.18,496.6" fill="none" stroke="#f0f0f0" stroke-width="0.55"/>
<polyline points="712.16,479.25 710.61,479.42 708.97,480.03 707.31,481.05 705.71,482.44 704.23,484.14 702.95,486.07 701.92,488.15 701.19,490.28 700.79,492.36 700.74,494.31 701.03,496.04 701.67,497.46" fill="none" stroke="#f0f0f0" stroke-width="0.55"/>
<polyline points="713.65,480.11 712.1,480.28 710.46,480.89 708.8,481.91 707.2,483.3 705.72,485 704.44,486.93 703.42,489.01 702.68,491.14 702.28,493.22 702.23,495.17 702.53,496.9 703.16,498.32" fill="none" stroke="#f0f0f0" stroke-width="0.55"/>
<polyline points="715.14,480.97 713.59,481.14 711.95,481.74 710.29,482.77 708.69,484.16 707.22,485.86 705.94,487.79 704.91,489.87 704.18,492 703.78,494.08 703.72,496.03 704.02,497.76 704.65,499.18" fill="none" stroke="#f0f0f0" stroke-width="0.55"/>
<polyline points="716.64,481.83 715.08,482 713.44,482.6 711.78,483.63 710.18,485.02 708.71,486.72 707.43,488.65 706.4,490.73 705.67,492.86 705.27,494.94 705.21,496.89 705.51,498.62 706.15,500.04" fill="none" stroke="#f0f0f0" stroke-width="0.55"/>
<polyline points="718.13,482.69 716.58,482.86 714.94,483.46 713.28,484.49 711.67,485.88 710.2,487.58 708.92,489.51 707.89,491.59 707.16,493.72 706.76,495.8 706.71,497.75 707,499.48 707.64,500.9" fill="none" stroke="#f0f0f0" stroke-width="0.55"/>
<polyline points="719.62,483.55 718.07,483.71 716.43,484.32 714.77,485.35 713.17,486.74 711.69,488.44 710.41,490.37 709.38,492.45 708.65,494.58 708.25,496.66 708.2,498.61 708.5,500.34 709.13,501.76" fill="none" stroke="#f0f0f0" stroke-width="0.55"/>
<polyline points="721.11,484.41 719.56,484.57 717.92,485.18 716.26,486.21 714.66,487.6 713.19,489.3 711.91,491.23 710.88,493.31 710.15,495.44 709.74,497.52 709.69,499.47 709.99,501.2 710.62,502.62" fill="none" stroke="#f0f0f0" stroke-width="0.55"/>
<polyline points="722.6,485.27 721.05,485.43 719.41,486.04 717.75,487.07 716.15,488.46 714.68,490.16 713.4,492.09 712.37,494.17 711.64,496.3 711.24,498.38 711.18,500.33 711.48,502.05 712.11,503.48" fill="none" stroke="#f0f0f0" stroke-width="0.55"/>
<polyline points="724.1,486.13 722.55,486.29 720.91,486.9 719.25,487.93 717.64,489.32 716.17,491.02 714.89,492.95 713.86,495.03 713.13,497.16 712.73,499.24 712.68,501.19 712.97,502.91 713.61,504.34" fill="none" stroke="#f0f0f0" stroke-width="0.55"/>
<polyline points="725.59,486.99 724.04,487.15 722.4,487.76 720.74,488.79 719.14,490.18 717.66,491.88 716.38,493.81 715.35,495.89 714.62,498.02 714.22,500.1 714.17,502.05 714.47,503.77 715.1,505.2" fill="none" stroke="#f0f0f0" stroke-width="0.55"/>
<polyline points="727.08,487.85 725.53,488.01 723.89,488.62 722.23,489.65 720.63,491.04 719.15,492.74 717.87,494.67 716.85,496.75 716.12,498.87 715.71,500.96 715.66,502.91 715.96,504.63 716.59,506.06" fill="none" stroke="#f0f0f0" stroke-width="0.55"/>
<polyline points="728.57,488.71 727.02,488.87 725.38,489.48 723.72,490.51 722.12,491.9 720.65,493.6 719.37,495.53 718.34,497.61 717.61,499.73 717.21,501.82 717.15,503.77 717.45,505.49 718.08,506.92" fill="none" stroke="#f0f0f0" stroke-width="0.55"/>
<polyline points="730.07,489.57 728.52,489.73 726.87,490.34 725.22,491.36 723.61,492.76 722.14,494.46 720.86,496.39 719.83,498.47 719.1,500.59 718.7,502.68 718.65,504.63 718.94,506.35 719.58,507.78" fill="none" stroke="#f0f0f0" stroke-width="0.55"/>
<polyline points="731.56,490.43 730.01,490.59 728.37,491.2 726.71,492.22 725.11,493.62 723.63,495.32 722.35,497.25 721.32,499.33 720.59,501.45 720.19,503.54 720.14,505.49 720.43,507.21 721.07,508.64" fill="none" stroke="#f0f0f0" stroke-width="0.55"/>
<polyline points="733.05,491.28 731.5,491.45 729.86,492.06 728.2,493.08 726.6,494.48 725.12,496.18 723.84,498.11 722.82,500.18 722.08,502.31 721.68,504.4 721.63,506.35 721.93,508.07 722.56,509.5" fill="none" stroke="#f0f0f0" stroke-width="0.55"/>
<polyline points="734.54,492.14 732.99,492.31 731.35,492.92 729.69,493.94 728.09,495.34 726.62,497.04 725.34,498.97 724.31,501.04 723.58,503.17 723.18,505.26 723.12,507.21 723.42,508.93 724.05,510.36" fill="none" stroke="#f0f0f0" stroke-width="0.55"/>
<polyline points="736.04,493 734.49,493.17 732.84,493.78 731.19,494.8 729.58,496.2 728.11,497.9 726.83,499.83 725.8,501.9 725.07,504.03 724.67,506.12 724.61,508.07 724.91,509.79 725.55,511.22" fill="none" stroke="#f0f0f0" stroke-width="0.55"/>
<polyline points="711.09,478.07 710.31,477.73 709.45,477.55 708.52,477.55 707.54,477.73 706.53,478.07 705.51,478.57 704.48,479.23 703.47,480.03 702.51,480.96 701.59,482 700.74,483.14 699.98,484.36 699.31,485.63 698.75,486.94 698.3,488.25 697.98,489.56 697.8,490.83 697.74,492.05 697.82,493.19 698.03,494.24 698.38,495.17 698.84,495.97 699.42,496.63 700.11,497.13" fill="none" stroke="#2e2e2e" stroke-width="1.3" stroke-linejoin="round" stroke-linecap="round" />
<polyline points="738.23,493.71 737.46,493.3 736.59,493.06 735.65,493.01 734.66,493.14 733.62,493.45 732.56,493.93 731.51,494.59 730.46,495.39 729.46,496.34 728.51,497.41 727.63,498.58 726.84,499.83 726.15,501.15 725.58,502.49 725.13,503.85 724.82,505.2 724.64,506.5 724.61,507.75 724.72,508.9 724.97,509.96 725.36,510.88 725.88,511.67 726.51,512.29 727.26,512.75" fill="none" stroke="#666" stroke-width="0.8" stroke-linejoin="round" stroke-linecap="round" />
<line x1="711.09" y1="478.07" x2="841.44" y2="554.42" stroke="#2e2e2e" stroke-width="1.1" />
<line x1="700.11" y1="497.13" x2="831.56" y2="571.58" stroke="#2e2e2e" stroke-width="1.1" />
<path d="M847.68,548.18 A10.97 18.6 29.94 0 0 829.12,580.42 L839.72,586.52 A10.97 18.6 29.94 0 0 858.28,554.28 Z" fill="#fff" stroke="#2e2e2e" stroke-width="1.2" stroke-linejoin="round" />
<path d="M847.68,548.18 A10.97 18.6 29.94 0 0 829.12,580.42 L833.02,582.66 A10.97 18.6 29.94 0 1 851.58,550.43 Z" fill="#d0d0d0" stroke="none" stroke-width="0" stroke-linejoin="round"/>
<line x1="845.61" y1="547.42" x2="849.51" y2="549.66" stroke="#666" stroke-width="0.5" />
<line x1="844.25" y1="547.28" x2="848.15" y2="549.52" stroke="#666" stroke-width="0.5" />
<line x1="842.81" y1="547.37" x2="846.71" y2="549.62" stroke="#666" stroke-width="0.5" />
<line x1="841.32" y1="547.7" x2="845.22" y2="549.95" stroke="#666" stroke-width="0.5" />
<line x1="839.78" y1="548.26" x2="843.68" y2="550.51" stroke="#666" stroke-width="0.5" />
<line x1="838.22" y1="549.04" x2="842.12" y2="551.29" stroke="#666" stroke-width="0.5" />
<line x1="836.66" y1="550.03" x2="840.56" y2="552.28" stroke="#666" stroke-width="0.5" />
<line x1="835.13" y1="551.22" x2="839.03" y2="553.46" stroke="#666" stroke-width="0.5" />
<line x1="833.65" y1="552.58" x2="837.55" y2="554.83" stroke="#666" stroke-width="0.5" />
<line x1="832.23" y1="554.11" x2="836.13" y2="556.35" stroke="#666" stroke-width="0.5" />
<line x1="830.89" y1="555.78" x2="834.79" y2="558.02" stroke="#666" stroke-width="0.5" />
<line x1="829.66" y1="557.56" x2="833.56" y2="559.81" stroke="#666" stroke-width="0.5" />
<line x1="828.55" y1="559.44" x2="832.45" y2="561.68" stroke="#666" stroke-width="0.5" />
<line x1="827.57" y1="561.38" x2="831.47" y2="563.63" stroke="#666" stroke-width="0.5" />
<line x1="826.74" y1="563.37" x2="830.64" y2="565.61" stroke="#666" stroke-width="0.5" />
<line x1="826.07" y1="565.36" x2="829.97" y2="567.61" stroke="#666" stroke-width="0.5" />
<line x1="825.58" y1="567.35" x2="829.48" y2="569.59" stroke="#666" stroke-width="0.5" />
<line x1="825.26" y1="569.29" x2="829.16" y2="571.53" stroke="#666" stroke-width="0.5" />
<line x1="825.12" y1="571.16" x2="829.02" y2="573.4" stroke="#666" stroke-width="0.5" />
<line x1="825.16" y1="572.94" x2="829.06" y2="575.18" stroke="#666" stroke-width="0.5" />
<line x1="825.38" y1="574.59" x2="829.28" y2="576.84" stroke="#666" stroke-width="0.5" />
<line x1="825.79" y1="576.11" x2="829.69" y2="578.36" stroke="#666" stroke-width="0.5" />
<line x1="826.37" y1="577.47" x2="830.27" y2="579.71" stroke="#666" stroke-width="0.5" />
<line x1="827.11" y1="578.64" x2="831.01" y2="580.88" stroke="#666" stroke-width="0.5" />
<polyline points="852.05,550.72 850.74,550.02 849.28,549.62 847.7,549.53 846.01,549.75 844.26,550.27 842.47,551.09 840.68,552.2 838.92,553.56 837.22,555.16 835.61,556.97 834.13,558.95 832.79,561.07 831.63,563.29 830.66,565.57 829.9,567.87 829.37,570.14 829.07,572.35 829.02,574.45 829.21,576.41 829.63,578.19 830.29,579.75 831.16,581.08 832.24,582.14 833.5,582.92" fill="none" stroke="#2e2e2e" stroke-width="0.8" stroke-linejoin="round" stroke-linecap="round" />
<polyline points="854.21,551.97 852.91,551.27 851.45,550.87 849.86,550.78 848.18,551 846.43,551.52 844.64,552.34 842.85,553.44 841.09,554.81 839.39,556.41 837.78,558.21 836.29,560.2 834.96,562.32 833.79,564.54 832.82,566.82 832.07,569.11 831.54,571.39 831.24,573.59 831.19,575.7 831.37,577.66 831.8,579.43 832.45,581 833.33,582.33 834.41,583.39 835.67,584.16" fill="none" stroke="#2e2e2e" stroke-width="0.8" stroke-linejoin="round" stroke-linecap="round" />
<polyline points="847.68,548.18 846.36,547.61 844.91,547.31 843.34,547.31 841.69,547.6 839.98,548.18 838.24,549.03 836.51,550.14 834.81,551.5 833.17,553.07 831.62,554.84 830.18,556.77 828.89,558.82 827.76,560.97 826.81,563.18 826.06,565.41 825.52,567.62 825.2,569.77 825.11,571.82 825.25,573.75 825.61,575.52 826.18,577.09 826.97,578.45 827.95,579.56 829.12,580.42" fill="none" stroke="#2e2e2e" stroke-width="1.2" stroke-linejoin="round" stroke-linecap="round" />
<ellipse cx="849" cy="570.4" rx="10.97" ry="18.6" transform="rotate(29.94 849 570.4)" fill="#fff" stroke="#2e2e2e" stroke-width="1.2" />
<ellipse cx="849" cy="570.4" rx="10.15" ry="17.2" transform="rotate(29.94 849 570.4)" fill="none" stroke="#2e2e2e" stroke-width="0.7" />
<path d="M858.32,558.23 A8.97 15.2 29.94 0 0 843.15,584.57 L850.51,588.81 A8.97 15.2 29.94 0 0 865.69,562.47 Z" fill="#fff" stroke="#2e2e2e" stroke-width="1.1" stroke-linejoin="round" />
<ellipse cx="858.1" cy="575.64" rx="8.97" ry="15.2" transform="rotate(29.94 858.1 575.64)" fill="#b0b0b0" stroke="#2e2e2e" stroke-width="1.2" />
<line x1="862.84" y1="567.41" x2="865.69" y2="562.47" stroke="#555" stroke-width="0.5" />
<line x1="863.75" y1="568.17" x2="867.14" y2="563.69" stroke="#555" stroke-width="0.5" />
<line x1="864.41" y1="569.26" x2="868.19" y2="565.43" stroke="#555" stroke-width="0.5" />
<line x1="864.79" y1="570.63" x2="868.8" y2="567.62" stroke="#555" stroke-width="0.5" />
<line x1="864.88" y1="572.21" x2="868.95" y2="570.15" stroke="#555" stroke-width="0.5" />
<line x1="864.68" y1="573.95" x2="868.62" y2="572.93" stroke="#555" stroke-width="0.5" />
<line x1="864.18" y1="575.76" x2="867.83" y2="575.83" stroke="#555" stroke-width="0.5" />
<line x1="863.42" y1="577.56" x2="866.62" y2="578.72" stroke="#555" stroke-width="0.5" />
<line x1="862.43" y1="579.28" x2="865.03" y2="581.47" stroke="#555" stroke-width="0.5" />
<line x1="861.25" y1="580.85" x2="863.14" y2="583.97" stroke="#555" stroke-width="0.5" />
<line x1="859.93" y1="582.18" x2="861.04" y2="586.1" stroke="#555" stroke-width="0.5" />
<line x1="858.54" y1="583.23" x2="858.8" y2="587.78" stroke="#555" stroke-width="0.5" />
<line x1="857.12" y1="583.95" x2="856.53" y2="588.93" stroke="#555" stroke-width="0.5" />
<line x1="855.74" y1="584.3" x2="854.33" y2="589.49" stroke="#555" stroke-width="0.5" />
<line x1="854.47" y1="584.27" x2="852.29" y2="589.45" stroke="#555" stroke-width="0.5" />
<line x1="853.36" y1="583.87" x2="850.51" y2="588.81" stroke="#555" stroke-width="0.5" />
<line x1="852.45" y1="583.11" x2="849.06" y2="587.59" stroke="#555" stroke-width="0.5" />
<line x1="851.79" y1="582.02" x2="848.01" y2="585.85" stroke="#555" stroke-width="0.5" />
<line x1="851.41" y1="580.66" x2="847.39" y2="583.67" stroke="#555" stroke-width="0.5" />
<line x1="851.32" y1="579.07" x2="847.25" y2="581.13" stroke="#555" stroke-width="0.5" />
<line x1="851.52" y1="577.33" x2="847.58" y2="578.35" stroke="#555" stroke-width="0.5" />
<line x1="852.01" y1="575.52" x2="848.36" y2="575.45" stroke="#555" stroke-width="0.5" />
<line x1="852.77" y1="573.72" x2="849.58" y2="572.57" stroke="#555" stroke-width="0.5" />
<line x1="853.76" y1="572" x2="851.16" y2="569.81" stroke="#555" stroke-width="0.5" />
<line x1="854.94" y1="570.44" x2="853.05" y2="567.31" stroke="#555" stroke-width="0.5" />
<line x1="856.26" y1="569.1" x2="855.16" y2="565.18" stroke="#555" stroke-width="0.5" />
<line x1="857.66" y1="568.05" x2="857.4" y2="563.5" stroke="#555" stroke-width="0.5" />
<line x1="859.08" y1="567.34" x2="859.67" y2="562.35" stroke="#555" stroke-width="0.5" />
<line x1="860.45" y1="566.98" x2="861.87" y2="561.79" stroke="#555" stroke-width="0.5" />
<line x1="861.73" y1="567.01" x2="863.9" y2="561.83" stroke="#555" stroke-width="0.5" />
<ellipse cx="858.1" cy="575.64" rx="5.49" ry="9.3" transform="rotate(29.94 858.1 575.64)" fill="#fff" stroke="#2e2e2e" stroke-width="1.0" />
<path d="M862.09,568.71 A4.72 8 29.94 0 0 854.11,582.57 L860.6,586.32 A4.72 8 29.94 0 0 868.59,572.45 Z" fill="#fff" stroke="#2e2e2e" stroke-width="1.2" stroke-linejoin="round" />
<ellipse cx="864.6" cy="579.38" rx="4.72" ry="8" transform="rotate(29.94 864.6 579.38)" fill="#fff" stroke="#2e2e2e" stroke-width="1.3" />
<ellipse cx="864.6" cy="579.38" rx="3.13" ry="5.3" transform="rotate(29.94 864.6 579.38)" fill="none" stroke="#2e2e2e" stroke-width="0.9" />
<defs><radialGradient id="gr"><stop offset="0" stop-color="#74e0a6"/><stop offset="0.84" stop-color="#7ae2aa"/><stop offset="1" stop-color="#7ae2aa" stop-opacity="0"/></radialGradient></defs>
<circle cx="687.3" cy="471.2" r="27.8" fill="url(#gr)" style="mix-blend-mode:multiply"/>
<polygon points="373,42 377.5,36 387,31 397.5,35.5 402,40 398,63 386.5,63.5 373.5,54" fill="#fff" stroke="#333" stroke-width="1.1" stroke-linejoin="round"/>
<line x1="377.5" y1="36" x2="386.5" y2="41.5" stroke="#2e2e2e" stroke-width="0.8" />
<line x1="386.5" y1="41.5" x2="397" y2="38" stroke="#2e2e2e" stroke-width="0.8" />
<line x1="373.5" y1="42.5" x2="386" y2="48" stroke="#2e2e2e" stroke-width="0.8" />
<line x1="386" y1="48" x2="386.5" y2="63.5" stroke="#2e2e2e" stroke-width="0.8" />
<ellipse cx="396.7" cy="51.5" rx="10.56" ry="17.9" transform="rotate(29.94 396.7 51.5)" fill="#fff" stroke="#2e2e2e" stroke-width="1.2" />
<ellipse cx="396.7" cy="51.5" rx="9.56" ry="16.2" transform="rotate(29.94 396.7 51.5)" fill="none" stroke="#2e2e2e" stroke-width="0.7" />
<ellipse cx="397.13" cy="51.75" rx="7.91" ry="13.4" transform="rotate(29.94 397.13 51.75)" fill="#a0a0a0" stroke="#2e2e2e" stroke-width="1.0" />
<line x1="402.02" y1="43.26" x2="403.82" y2="40.14" stroke="#555" stroke-width="0.5" />
<line x1="402.96" y1="44.04" x2="405.1" y2="41.21" stroke="#555" stroke-width="0.5" />
<line x1="403.64" y1="45.17" x2="406.03" y2="42.75" stroke="#555" stroke-width="0.5" />
<line x1="404.04" y1="46.58" x2="406.57" y2="44.68" stroke="#555" stroke-width="0.5" />
<line x1="404.13" y1="48.21" x2="406.7" y2="46.91" stroke="#555" stroke-width="0.5" />
<line x1="403.92" y1="50" x2="406.41" y2="49.36" stroke="#555" stroke-width="0.5" />
<line x1="403.41" y1="51.87" x2="405.72" y2="51.91" stroke="#555" stroke-width="0.5" />
<line x1="402.63" y1="53.73" x2="404.65" y2="54.46" stroke="#555" stroke-width="0.5" />
<line x1="401.6" y1="55.51" x2="403.25" y2="56.89" stroke="#555" stroke-width="0.5" />
<line x1="400.39" y1="57.12" x2="401.58" y2="59.09" stroke="#555" stroke-width="0.5" />
<line x1="399.03" y1="58.49" x2="399.72" y2="60.97" stroke="#555" stroke-width="0.5" />
<line x1="397.58" y1="59.58" x2="397.75" y2="62.45" stroke="#555" stroke-width="0.5" />
<line x1="396.12" y1="60.32" x2="395.75" y2="63.46" stroke="#555" stroke-width="0.5" />
<line x1="394.7" y1="60.68" x2="393.81" y2="63.96" stroke="#555" stroke-width="0.5" />
<line x1="393.39" y1="60.66" x2="392.02" y2="63.93" stroke="#555" stroke-width="0.5" />
<line x1="392.24" y1="60.24" x2="390.45" y2="63.36" stroke="#555" stroke-width="0.5" />
<line x1="391.31" y1="59.46" x2="389.17" y2="62.29" stroke="#555" stroke-width="0.5" />
<line x1="390.63" y1="58.33" x2="388.24" y2="60.75" stroke="#555" stroke-width="0.5" />
<line x1="390.23" y1="56.92" x2="387.7" y2="58.82" stroke="#555" stroke-width="0.5" />
<line x1="390.14" y1="55.29" x2="387.57" y2="56.59" stroke="#555" stroke-width="0.5" />
<line x1="390.35" y1="53.5" x2="387.86" y2="54.14" stroke="#555" stroke-width="0.5" />
<line x1="390.86" y1="51.63" x2="388.55" y2="51.58" stroke="#555" stroke-width="0.5" />
<line x1="391.64" y1="49.77" x2="389.62" y2="49.04" stroke="#555" stroke-width="0.5" />
<line x1="392.66" y1="47.99" x2="391.02" y2="46.61" stroke="#555" stroke-width="0.5" />
<line x1="393.88" y1="46.38" x2="392.68" y2="44.41" stroke="#555" stroke-width="0.5" />
<line x1="395.24" y1="45" x2="394.54" y2="42.53" stroke="#555" stroke-width="0.5" />
<line x1="396.68" y1="43.92" x2="396.52" y2="41.05" stroke="#555" stroke-width="0.5" />
<line x1="398.15" y1="43.18" x2="398.52" y2="40.04" stroke="#555" stroke-width="0.5" />
<line x1="399.56" y1="42.82" x2="400.46" y2="39.54" stroke="#555" stroke-width="0.5" />
<line x1="400.88" y1="42.84" x2="402.25" y2="39.57" stroke="#555" stroke-width="0.5" />
<ellipse cx="397.57" cy="52" rx="5.78" ry="9.8" transform="rotate(29.94 397.57 52)" fill="#fff" stroke="#2e2e2e" stroke-width="1.0" />
<clipPath id="c10"><ellipse cx="397.57" cy="52" rx="5.78" ry="9.8" transform="rotate(29.94 397.57 52)"/></clipPath>
<g clip-path="url(#c10)">
<line x1="396.7" y1="51.5" x2="420" y2="64.55" stroke="#2e2e2e" stroke-width="0.9" />
<line x1="388" y1="46" x2="388" y2="60" stroke="#666" stroke-width="0.6" />
</g>
<line x1="404" y1="55.59" x2="416" y2="62.31" stroke="#2e2e2e" stroke-width="0.9" />
<path d="M423.84,57.74 A5.49 9.3 29.94 0 0 414.56,73.86 L433.91,81.27 A4.13 7 29.94 0 0 440.89,69.13 Z" fill="#8c8c8c" stroke="#2e2e2e" stroke-width="1.1" stroke-linejoin="round" />
<polyline points="424.5,58.24 423.37,57.52 421.98,57.29 420.43,57.57 418.8,58.35 417.2,59.58 415.72,61.18 414.45,63.06 413.46,65.1 412.82,67.19 412.56,69.19 412.7,70.99 413.23,72.48 414.12,73.56 415.32,74.18" fill="none" stroke="#2a2a2a" stroke-width="1.5" stroke-linejoin="round" stroke-linecap="round" />
<polyline points="426.94,60.84 426.15,59.32 424.92,58.38 423.35,58.09 421.56,58.46 419.7,59.48 417.9,61.06 416.32,63.07 415.07,65.36 414.26,67.75 413.94,70.05 414.15,72.07 414.87,73.67 416.03,74.71 417.56,75.11" fill="none" stroke="#e8e8e8" stroke-width="1.0" stroke-linejoin="round" stroke-linecap="round" />
<polyline points="428.72,61.06 427.66,60.38 426.36,60.17 424.9,60.43 423.38,61.16 421.87,62.32 420.48,63.82 419.29,65.58 418.36,67.5 417.76,69.45 417.52,71.33 417.65,73.02 418.15,74.41 418.99,75.43 420.11,76.01" fill="none" stroke="#2a2a2a" stroke-width="1.5" stroke-linejoin="round" stroke-linecap="round" />
<polyline points="431.1,63.55 430.35,62.12 429.2,61.24 427.73,60.96 426.05,61.32 424.3,62.27 422.62,63.75 421.13,65.64 419.96,67.79 419.2,70.03 418.91,72.18 419.1,74.08 419.77,75.58 420.86,76.56 422.29,76.93" fill="none" stroke="#e8e8e8" stroke-width="1.0" stroke-linejoin="round" stroke-linecap="round" />
<polyline points="432.94,63.88 431.95,63.24 430.74,63.04 429.38,63.29 427.95,63.97 426.55,65.05 425.25,66.45 424.13,68.1 423.27,69.89 422.71,71.72 422.48,73.47 422.6,75.05 423.07,76.35 423.85,77.3 424.9,77.84" fill="none" stroke="#2a2a2a" stroke-width="1.5" stroke-linejoin="round" stroke-linecap="round" />
<polyline points="435.25,66.25 434.56,64.92 433.48,64.1 432.11,63.84 430.54,64.17 428.91,65.06 427.33,66.44 425.95,68.21 424.85,70.21 424.14,72.31 423.87,74.32 424.05,76.1 424.67,77.49 425.7,78.4 427.03,78.75" fill="none" stroke="#e8e8e8" stroke-width="1.0" stroke-linejoin="round" stroke-linecap="round" />
<polyline points="437.17,66.69 436.24,66.1 435.11,65.92 433.85,66.15 432.53,66.79 431.22,67.78 430.01,69.09 428.98,70.62 428.17,72.28 427.65,73.98 427.44,75.61 427.56,77.08 427.99,78.29 428.72,79.17 429.69,79.67" fill="none" stroke="#2a2a2a" stroke-width="1.5" stroke-linejoin="round" stroke-linecap="round" />
<polyline points="439.41,68.96 438.77,67.72 437.77,66.96 436.49,66.72 435.03,67.02 433.51,67.85 432.05,69.13 430.76,70.77 429.74,72.64 429.08,74.59 428.83,76.46 429,78.11 429.58,79.41 430.53,80.25 431.77,80.58" fill="none" stroke="#e8e8e8" stroke-width="1.0" stroke-linejoin="round" stroke-linecap="round" />
<polyline points="441.39,69.51 440.54,68.96 439.49,68.79 438.32,69.01 437.1,69.6 435.89,70.52 434.78,71.72 433.82,73.14 433.08,74.68 432.6,76.25 432.4,77.75 432.51,79.11 432.91,80.22 433.58,81.04 434.48,81.51" fill="none" stroke="#2a2a2a" stroke-width="1.5" stroke-linejoin="round" stroke-linecap="round" />
<polyline points="443.57,71.66 442.97,70.52 442.05,69.81 440.87,69.59 439.52,69.88 438.12,70.64 436.77,71.83 435.57,73.34 434.64,75.07 434.02,76.86 433.79,78.59 433.94,80.12 434.48,81.32 435.36,82.1 436.51,82.4" fill="none" stroke="#e8e8e8" stroke-width="1.0" stroke-linejoin="round" stroke-linecap="round" />
<ellipse cx="437.4" cy="75.2" rx="4.13" ry="7" transform="rotate(29.94 437.4 75.2)" fill="#7a7a7a" stroke="#2e2e2e" stroke-width="1.1" />
<ellipse cx="437.4" cy="75.2" rx="2.6" ry="4.4" transform="rotate(29.94 437.4 75.2)" fill="#fff" stroke="#2e2e2e" stroke-width="0.8" />
<ellipse cx="419.2" cy="65.8" rx="5.66" ry="9.6" transform="rotate(29.94 419.2 65.8)" fill="#c8c8c8" stroke="#2e2e2e" stroke-width="1.3" />
<ellipse cx="419.2" cy="65.8" rx="4.25" ry="7.2" transform="rotate(29.94 419.2 65.8)" fill="#fff" stroke="#2e2e2e" stroke-width="1.0" />
<line x1="417" y1="62.87" x2="425" y2="67.35" stroke="#2e2e2e" stroke-width="0.9" />
<line x1="441" y1="76.31" x2="449" y2="80.79" stroke="#2e2e2e" stroke-width="0.9" />
<path d="M454.49,78.28 A3.89 6.6 29.94 0 0 447.91,89.72 L461.01,101.66 A6.37 10.8 29.94 0 0 471.79,82.94 Z" fill="#8c8c8c" stroke="#2e2e2e" stroke-width="1.1" stroke-linejoin="round" />
<polyline points="454.96,78.64 454.16,78.12 453.17,77.96 452.07,78.16 450.92,78.72 449.78,79.59 448.73,80.72 447.83,82.06 447.13,83.51 446.67,84.99 446.49,86.41 446.59,87.68 446.97,88.74 447.6,89.51 448.45,89.95" fill="none" stroke="#2a2a2a" stroke-width="1.5" stroke-linejoin="round" stroke-linecap="round" />
<polyline points="457.1,80.71 456.53,79.64 455.66,78.97 454.55,78.76 453.28,79.03 451.95,79.75 450.68,80.87 449.56,82.29 448.67,83.92 448.1,85.61 447.87,87.25 448.02,88.68 448.53,89.82 449.36,90.55 450.44,90.84" fill="none" stroke="#e8e8e8" stroke-width="1.0" stroke-linejoin="round" stroke-linecap="round" />
<polyline points="459.36,79.86 458.43,79.26 457.29,79.07 456.01,79.31 454.67,79.95 453.35,80.96 452.14,82.28 451.09,83.82 450.28,85.5 449.75,87.22 449.54,88.87 449.65,90.34 450.09,91.57 450.83,92.46 451.81,92.97" fill="none" stroke="#2a2a2a" stroke-width="1.5" stroke-linejoin="round" stroke-linecap="round" />
<polyline points="461.61,82.14 460.96,80.89 459.95,80.12 458.66,79.87 457.19,80.18 455.65,81.02 454.18,82.31 452.88,83.97 451.85,85.85 451.18,87.82 450.92,89.71 451.09,91.38 451.68,92.69 452.64,93.54 453.89,93.87" fill="none" stroke="#e8e8e8" stroke-width="1.0" stroke-linejoin="round" stroke-linecap="round" />
<polyline points="463.76,81.08 462.7,80.4 461.4,80.19 459.95,80.46 458.43,81.18 456.93,82.33 455.54,83.83 454.35,85.59 453.43,87.5 452.83,89.45 452.59,91.32 452.72,93 453.22,94.39 454.05,95.41 455.17,95.99" fill="none" stroke="#2a2a2a" stroke-width="1.5" stroke-linejoin="round" stroke-linecap="round" />
<polyline points="466.13,83.56 465.39,82.14 464.24,81.26 462.77,80.99 461.1,81.34 459.35,82.29 457.68,83.76 456.19,85.65 455.03,87.79 454.27,90.02 453.97,92.17 454.17,94.07 454.84,95.56 455.93,96.53 457.35,96.91" fill="none" stroke="#e8e8e8" stroke-width="1.0" stroke-linejoin="round" stroke-linecap="round" />
<polyline points="468.16,82.3 466.97,81.54 465.52,81.3 463.89,81.6 462.18,82.42 460.5,83.71 458.95,85.38 457.62,87.35 456.58,89.5 455.91,91.68 455.64,93.78 455.79,95.67 456.34,97.22 457.28,98.36 458.53,99.01" fill="none" stroke="#2a2a2a" stroke-width="1.5" stroke-linejoin="round" stroke-linecap="round" />
<polyline points="470.65,84.99 469.82,83.4 468.53,82.41 466.88,82.1 465.01,82.5 463.05,83.56 461.17,85.21 459.51,87.32 458.21,89.72 457.35,92.23 457.02,94.64 457.24,96.76 457.99,98.43 459.21,99.52 460.81,99.94" fill="none" stroke="#e8e8e8" stroke-width="1.0" stroke-linejoin="round" stroke-linecap="round" />
<polyline points="472.56,83.52 471.24,82.68 469.63,82.42 467.83,82.75 465.94,83.65 464.08,85.08 462.36,86.94 460.88,89.12 459.73,91.49 458.99,93.91 458.69,96.24 458.85,98.33 459.47,100.05 460.51,101.31 461.9,102.03" fill="none" stroke="#2a2a2a" stroke-width="1.5" stroke-linejoin="round" stroke-linecap="round" />
<polyline points="475.16,86.41 474.25,84.65 472.82,83.56 470.99,83.22 468.92,83.65 466.75,84.83 464.67,86.66 462.83,89 461.38,91.66 460.44,94.43 460.07,97.1 460.32,99.46 461.15,101.31 462.5,102.51 464.27,102.98" fill="none" stroke="#e8e8e8" stroke-width="1.0" stroke-linejoin="round" stroke-linecap="round" />
<ellipse cx="466.4" cy="92.3" rx="6.37" ry="10.8" transform="rotate(29.94 466.4 92.3)" fill="#9a9a9a" stroke="#2e2e2e" stroke-width="1.3" />
<ellipse cx="466.4" cy="92.3" rx="4.84" ry="8.2" transform="rotate(29.94 466.4 92.3)" fill="#fff" stroke="#2e2e2e" stroke-width="1.0" />
<clipPath id="c11"><ellipse cx="466.4" cy="92.3" rx="4.84" ry="8.2" transform="rotate(29.94 466.4 92.3)"/></clipPath>
<g clip-path="url(#c11)">
<line x1="455" y1="84.15" x2="480" y2="98.15" stroke="#2e2e2e" stroke-width="0.9" />
</g>
<line x1="472" y1="93.67" x2="481" y2="98.71" stroke="#2e2e2e" stroke-width="0.9" />
<path d="M481.5,96.3 L510.8,112.6 L507.6,119.2 L478.2,103.1 Q475.6,98.7 481.5,96.3 Z" fill="#9a9a9a" stroke="#333" stroke-width="1.1" stroke-linejoin="round"/>
<line x1="483" y1="97.4" x2="479.4" y2="103.7" stroke="#e2e2e2" stroke-width="0.8" />
<line x1="485.55" y1="98.82" x2="481.95" y2="105.12" stroke="#e2e2e2" stroke-width="0.8" />
<line x1="488.1" y1="100.24" x2="484.5" y2="106.54" stroke="#e2e2e2" stroke-width="0.8" />
<line x1="490.65" y1="101.66" x2="487.05" y2="107.96" stroke="#e2e2e2" stroke-width="0.8" />
<line x1="493.2" y1="103.08" x2="489.6" y2="109.38" stroke="#e2e2e2" stroke-width="0.8" />
<line x1="495.75" y1="104.5" x2="492.15" y2="110.8" stroke="#e2e2e2" stroke-width="0.8" />
<line x1="498.3" y1="105.92" x2="494.7" y2="112.22" stroke="#e2e2e2" stroke-width="0.8" />
<line x1="500.85" y1="107.34" x2="497.25" y2="113.64" stroke="#e2e2e2" stroke-width="0.8" />
<line x1="503.4" y1="108.76" x2="499.8" y2="115.06" stroke="#e2e2e2" stroke-width="0.8" />
<line x1="505.95" y1="110.18" x2="502.35" y2="116.48" stroke="#e2e2e2" stroke-width="0.8" />
<line x1="508.5" y1="111.6" x2="504.9" y2="117.9" stroke="#e2e2e2" stroke-width="0.8" />
<path d="M510.8,112.6 L513.8,113.9 L667.5,200.8 L663.2,210 L509.8,120.3 L507.6,119.2 Z" fill="#fff" stroke="none"/>
<line x1="513.5" y1="113.8" x2="667.5" y2="200.8" stroke="#2e2e2e" stroke-width="1.2" />
<line x1="509.6" y1="120.2" x2="663.2" y2="210" stroke="#2e2e2e" stroke-width="1.2" />
<path d="M510.8,112.6 Q513.8,113.5 513,117 Q512,120 509.6,120.2" fill="none" stroke="#333" stroke-width="0.9"/>
<path d="M676,189.2 C695,180 715,166 730,154 Q738,147 742.5,141.5 Q746.5,137.5 748.4,141 Q749,147 748.2,152.5 Q747,157.5 744.8,160.3 Q740,166 734.3,170.3 Q726,176 719.2,180.2 Q711,186 706.3,190.7 Q702,195 700.5,201 L697,207 L690,207 Z" fill="#fff" stroke="#333" stroke-width="1.2" stroke-linejoin="round"/>
<path d="M718,170.3 Q733,158 744.8,145.2" fill="none" stroke="#333" stroke-width="0.7"/>
<path d="M704,182 L712,177.5" fill="none" stroke="#333" stroke-width="0.6"/>
<path d="M707.5,185 L721,175.2" stroke="#222" stroke-width="2.6"/>
<path d="M732,165 Q738,160 740,153.5 L742.5,150.5 M735.5,166 L745,158.5 M734.5,163 L744,156" stroke="#333" stroke-width="0.9" fill="none"/>
<circle cx="742.6" cy="152.3" r="1.3" fill="#222"/>
<path d="M666.2,201 Q662,206 661.4,211 L661.4,221.6 Q662,225 664.5,226.5 L682.5,234 Q690,236 696,233 Q701.5,229 703.6,221.6 Q705,214 701,207.5 L696,205 Q686,199 675,198 Q669,198 666.2,201 Z" fill="#fff" stroke="#333" stroke-width="1.2" stroke-linejoin="round"/>
<path d="M668.4,210.75 L682.5,218.3 L701,208.6" fill="none" stroke="#333" stroke-width="0.8"/>
<path d="M682.5,218.3 L682.5,234 M667.3,210.75 L667.9,224.8" fill="none" stroke="#333" stroke-width="0.7"/>
<path d="M664.5,204 Q668,199.5 675,197.5" fill="none" stroke="#333" stroke-width="0.7"/>
<ellipse cx="697" cy="223.7" rx="5.41" ry="6.6" transform="rotate(20 697 223.7)" fill="#fff" stroke="#2e2e2e" stroke-width="1.0" />
<ellipse cx="697.4" cy="223.6" rx="3.74" ry="4.4" transform="rotate(20 697.4 223.6)" fill="none" stroke="#2e2e2e" stroke-width="0.7" />
<path d="M674.4,195.6 L673.3,207.5 Q676,213 682.5,214 Q692,213 697.7,206.4 Q700,203.5 699.8,202 L694,192 Z" fill="#fff" stroke="none"/>
<path d="M674.4,195.6 Q673,202 673.3,207.5" fill="none" stroke="#333" stroke-width="0.9"/>
<path d="M699.8,202 Q698,205 697.7,206.4" fill="none" stroke="#333" stroke-width="0.9"/>
<ellipse cx="684.9" cy="192.6" rx="6" ry="10" transform="rotate(62 684.9 192.6)" fill="#fff" stroke="#2e2e2e" stroke-width="1.1" />
<ellipse cx="681.6" cy="194.2" rx="4.14" ry="4.6" transform="rotate(40 681.6 194.2)" fill="#fff" stroke="#2e2e2e" stroke-width="1.3" />
<circle cx="496.4" cy="42" r="8.6" fill="#fff" stroke="#555" stroke-width="1.1"/>
<path d="M497.3,36.8 L497.3,47.1" stroke="#1a1a26" stroke-width="2.1"/>
<path d="M498,37 Q496,39.2 493.8,39.7" stroke="#1a1a26" stroke-width="1.7" fill="none"/>
<circle cx="237.5" cy="148.75" r="8.6" fill="#fff" stroke="#555" stroke-width="1.1"/>
<text x="237.5" y="154.25" text-anchor="middle" font-family="Liberation Sans, sans-serif" font-weight="bold" font-size="15.6" fill="#1a1a26" textLength="6.5" lengthAdjust="spacingAndGlyphs">6</text>
<circle cx="332.5" cy="216.25" r="8.6" fill="#fff" stroke="#555" stroke-width="1.1"/>
<text x="332.5" y="221.75" text-anchor="middle" font-family="Liberation Sans, sans-serif" font-weight="bold" font-size="15.6" fill="#1a1a26" textLength="6.5" lengthAdjust="spacingAndGlyphs">5</text>
<circle cx="510.6" cy="261" r="8.6" fill="#fff" stroke="#555" stroke-width="1.1"/>
<text x="510.6" y="266.5" text-anchor="middle" font-family="Liberation Sans, sans-serif" font-weight="bold" font-size="15.6" fill="#1a1a26" textLength="6.5" lengthAdjust="spacingAndGlyphs">2</text>
<circle cx="689.5" cy="422" r="8.6" fill="#fff" stroke="#555" stroke-width="1.1"/>
<text x="689.5" y="427.5" text-anchor="middle" font-family="Liberation Sans, sans-serif" font-weight="bold" font-size="15.6" fill="#1a1a26" textLength="6.5" lengthAdjust="spacingAndGlyphs">4</text>
<circle cx="785.5" cy="477.3" r="8.6" fill="#fff" stroke="#555" stroke-width="1.1"/>
<text x="785.5" y="482.8" text-anchor="middle" font-family="Liberation Sans, sans-serif" font-weight="bold" font-size="15.6" fill="#1a1a26" textLength="6.5" lengthAdjust="spacingAndGlyphs">3</text>
<circle cx="484.25" cy="416.5" r="8.6" fill="#fff" stroke="#555" stroke-width="1.1"/>
<path d="M482.45,411.3 L482.45,421.6" stroke="#1a1a26" stroke-width="2.1"/>
<path d="M483.15,411.5 Q481.15,413.7 478.95,414.2" stroke="#1a1a26" stroke-width="1.7" fill="none"/>
<text x="487.15" y="421.7" text-anchor="middle" font-family="Liberation Sans, sans-serif" font-weight="bold" font-size="14.8" fill="#1a1a26" textLength="6.0" lengthAdjust="spacingAndGlyphs">0</text>
<circle cx="621.25" cy="495" r="8.6" fill="#fff" stroke="#555" stroke-width="1.1"/>
<text x="621.25" y="500.5" text-anchor="middle" font-family="Liberation Sans, sans-serif" font-weight="bold" font-size="15.6" fill="#1a1a26" textLength="6.5" lengthAdjust="spacingAndGlyphs">8</text>
<circle cx="540.75" cy="448.5" r="8.6" fill="#fff" stroke="#555" stroke-width="1.1"/>
<text x="540.75" y="454" text-anchor="middle" font-family="Liberation Sans, sans-serif" font-weight="bold" font-size="15.6" fill="#1a1a26" textLength="6.5" lengthAdjust="spacingAndGlyphs">9</text>
<circle cx="552.5" cy="498.75" r="8.6" fill="#fff" stroke="#555" stroke-width="1.1"/>
<text x="552.5" y="504.25" text-anchor="middle" font-family="Liberation Sans, sans-serif" font-weight="bold" font-size="15.6" fill="#1a1a26" textLength="6.5" lengthAdjust="spacingAndGlyphs">7</text>
<circle cx="159.5" cy="236.8" r="8.6" fill="#fff" stroke="#555" stroke-width="1.1"/>
<path d="M157.7,231.6 L157.7,241.9" stroke="#1a1a26" stroke-width="2.1"/>
<path d="M158.4,231.8 Q156.4,234 154.2,234.5" stroke="#1a1a26" stroke-width="1.7" fill="none"/>
<text x="162.4" y="242" text-anchor="middle" font-family="Liberation Sans, sans-serif" font-weight="bold" font-size="14.8" fill="#1a1a26" textLength="6.0" lengthAdjust="spacingAndGlyphs">2</text>
<circle cx="284.5" cy="298.75" r="8.6" fill="#fff" stroke="#555" stroke-width="1.1"/>
<path d="M282.7,293.55 L282.7,303.85" stroke="#1a1a26" stroke-width="2.1"/>
<path d="M283.4,293.75 Q281.4,295.95 279.2,296.45" stroke="#1a1a26" stroke-width="1.7" fill="none"/>
<path d="M288.3,293.55 L288.3,303.85" stroke="#1a1a26" stroke-width="2.1"/>
<path d="M289,293.75 Q287,295.95 284.8,296.45" stroke="#1a1a26" stroke-width="1.7" fill="none"/>
</svg></body></html>
